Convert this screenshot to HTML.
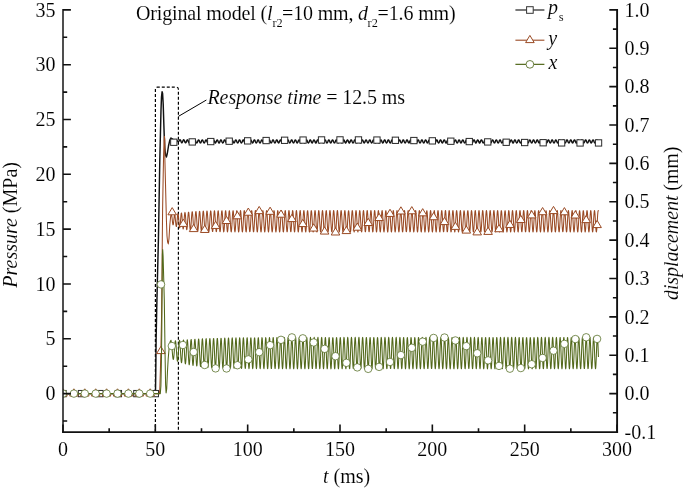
<!DOCTYPE html>
<html><head><meta charset="utf-8"><style>
html,body{margin:0;padding:0;background:#fff;}
svg{display:block;will-change:transform;}
text{font-family:"Liberation Serif",serif;stroke:#fff;stroke-width:0.1px;}
</style></head><body>
<svg width="685" height="490" viewBox="0 0 685 490" font-family="Liberation Serif" font-size="20" fill="#000">
<rect width="685" height="490" fill="#fff"/>
<defs><clipPath id="pc"><rect x="63" y="0" width="554" height="432"/></clipPath></defs>
<!-- dashed response-time box -->
<path d="M155.4 432V89.2Q155.4 87.2 157.4 87.2H176.4Q178.4 87.2 178.4 89.2V432" fill="none" stroke="#000" stroke-width="1.2" stroke-dasharray="3 2"/>
<path d="M178.4 116.4L206.4 100" fill="none" stroke="#000" stroke-width="1"/>
<g clip-path="url(#pc)">
<polyline points="63.00,393.60 155.30,393.60 155.50,392.00 155.80,370.00 156.10,340.00 156.70,310.00 157.30,284.00 157.90,260.00 158.40,240.00 159.10,200.00 159.80,160.00 160.40,135.00 161.00,110.00 161.50,97.00 162.10,91.70 162.60,93.50 163.20,104.00 163.70,120.00 164.20,135.00 164.80,148.00 165.50,155.00 166.40,157.00 167.30,153.50 168.50,146.00 169.80,140.20 171.00,137.90 171.20,138.10 171.45,138.30 171.70,138.49 171.95,138.67 172.20,138.84 172.45,138.99 172.70,139.14 172.95,139.28 173.20,139.41 173.45,139.53 173.70,139.65 173.95,139.76 174.20,139.86 174.45,139.95 174.70,140.04 174.95,140.13 175.20,140.22 175.45,140.26 175.70,140.25 175.95,140.21 176.20,140.17 176.45,140.19 176.70,140.27 176.95,140.44 177.20,140.70 177.45,141.00 177.70,141.29 177.95,141.53 178.20,141.65 178.45,141.63 178.70,141.44 178.95,141.12 179.20,140.72 179.45,140.30 179.70,139.97 179.95,139.80 180.20,139.85 180.45,140.13 180.70,140.61 180.95,141.24 181.20,141.87 181.45,142.37 181.70,142.67 181.95,142.70 182.20,142.47 182.45,142.02 182.70,141.43 182.95,140.81 183.20,140.26 183.45,139.89 183.70,139.76 183.95,139.90 184.20,140.28 184.45,140.85 184.70,141.49 184.95,142.10 185.20,142.57 185.45,142.83 185.70,142.82 185.95,142.56 186.20,142.08 186.45,141.47 186.70,140.84 186.95,140.31 187.20,139.96 187.45,139.85 187.70,140.02 187.95,140.42 188.20,140.99 188.45,141.63 188.70,142.22 188.95,142.67 189.20,142.90 189.45,142.86 189.70,142.56 189.95,142.06 190.20,141.44 190.45,140.82 190.70,140.30 190.95,139.97 191.20,139.89 191.45,140.08 191.70,140.51 191.95,141.09 192.20,141.73 192.45,142.31 192.70,142.73 192.95,142.93 193.20,142.86 193.45,142.53 193.70,142.01 193.95,141.39 194.20,140.77 194.45,140.26 194.70,139.96 194.95,139.92 195.20,140.13 195.45,140.58 195.70,141.17 195.95,141.81 196.20,142.38 196.45,142.78 196.70,142.94 196.95,142.84 197.20,142.49 197.45,141.95 197.70,141.32 197.95,140.71 198.20,140.22 198.45,139.95 198.70,139.93 198.95,140.18 199.20,140.65 199.45,141.25 199.70,141.88 199.95,142.44 200.20,142.81 200.45,142.95 200.70,142.81 200.95,142.44 201.20,141.88 201.45,141.25 201.70,140.65 201.95,140.18 202.20,139.94 202.45,139.95 202.70,140.23 202.95,140.71 203.20,141.32 203.45,141.95 203.70,142.49 203.95,142.84 204.20,142.95 204.45,142.78 204.70,142.38 204.95,141.81 205.20,141.18 205.45,140.59 205.70,140.14 205.95,139.92 206.20,139.97 206.45,140.27 206.70,140.78 206.95,141.40 207.20,142.02 207.45,142.54 207.70,142.87 207.95,142.94 208.20,142.75 208.45,142.33 208.70,141.74 208.95,141.11 209.20,140.53 209.45,140.11 209.70,139.92 209.95,139.99 210.20,140.32 210.45,140.84 210.70,141.47 210.95,142.09 211.20,142.59 211.45,142.89 211.70,142.93 211.95,142.71 212.20,142.27 212.45,141.67 212.70,141.04 212.95,140.47 213.20,140.07 213.45,139.91 213.70,140.02 213.95,140.37 214.20,140.91 214.45,141.54 214.70,142.15 214.95,142.64 215.20,142.91 215.45,142.92 215.70,142.67 215.95,142.20 216.20,141.60 216.45,140.97 216.70,140.41 216.95,140.04 217.20,139.91 217.45,140.05 217.70,140.43 217.95,140.98 218.20,141.62 218.45,142.22 218.70,142.68 218.95,142.93 219.20,142.91 219.45,142.63 219.70,142.14 219.95,141.53 220.20,140.90 220.45,140.36 220.70,140.01 220.95,139.91 221.20,140.08 221.45,140.48 221.70,141.05 221.95,141.69 222.20,142.28 222.45,142.72 222.70,142.94 222.95,142.89 223.20,142.58 223.45,142.07 223.70,141.45 223.95,140.83 224.20,140.31 224.45,139.99 224.70,139.92 224.95,140.11 225.20,140.54 225.45,141.12 225.70,141.76 225.95,142.34 226.20,142.76 226.45,142.94 226.70,142.86 226.95,142.53 227.20,142.01 227.45,141.38 227.70,140.76 227.95,140.26 228.20,139.97 228.45,139.93 228.70,140.15 228.95,140.60 229.20,141.20 229.45,141.83 229.70,142.40 229.95,142.79 230.20,142.95 230.45,142.84 230.70,142.48 230.95,141.94 231.20,141.31 231.45,140.70 231.70,140.22 231.95,139.95 232.20,139.94 232.45,140.19 232.70,140.66 232.95,141.27 233.20,141.90 233.45,142.45 233.70,142.82 233.95,142.95 234.20,142.81 234.45,142.43 234.70,141.87 234.95,141.24 235.20,140.63 235.45,140.17 235.70,139.93 235.95,139.96 236.20,140.24 236.45,140.73 236.70,141.34 236.95,141.97 237.20,142.51 237.45,142.85 237.70,142.95 237.95,142.78 238.20,142.37 238.45,141.80 238.70,141.16 238.95,140.57 239.20,140.13 239.45,139.92 239.70,139.98 239.95,140.28 240.20,140.79 240.45,141.41 240.70,142.04 240.95,142.56 241.20,142.88 241.45,142.94 241.70,142.74 241.95,142.31 242.20,141.73 242.45,141.09 242.70,140.51 242.95,140.10 243.20,139.91 243.45,140.00 243.70,140.33 243.95,140.86 244.20,141.49 244.45,142.10 244.70,142.60 244.95,142.90 245.20,142.93 245.45,142.70 245.70,142.25 245.95,141.66 246.20,141.02 246.45,140.46 246.70,140.06 246.95,139.91 247.20,140.02 247.45,140.38 247.70,140.93 247.95,141.56 248.20,142.17 248.45,142.65 248.70,142.91 248.95,142.92 249.20,142.66 249.45,142.19 249.70,141.58 249.95,140.95 250.20,140.40 250.45,140.03 250.70,139.91 250.95,140.05 251.20,140.44 251.45,141.00 251.70,141.63 251.95,142.23 252.20,142.69 252.45,142.93 252.70,142.90 252.95,142.62 253.20,142.13 253.45,141.51 253.70,140.88 253.95,140.35 254.20,140.01 254.45,139.91 254.70,140.09 254.95,140.50 255.20,141.07 255.45,141.71 255.70,142.29 255.95,142.73 256.20,142.94 256.45,142.88 256.70,142.57 256.95,142.06 257.20,141.44 257.45,140.81 257.70,140.30 257.95,139.98 258.20,139.92 258.45,140.12 258.70,140.55 258.95,141.14 259.20,141.78 259.45,142.35 259.70,142.77 259.95,142.95 260.20,142.86 260.45,142.52 260.70,141.99 260.95,141.36 261.20,140.75 261.45,140.25 261.70,139.96 261.95,139.93 262.20,140.16 262.45,140.62 262.70,141.21 262.95,141.85 263.20,142.41 263.45,142.80 263.70,142.95 263.95,142.83 264.20,142.47 264.45,141.92 264.70,141.29 264.95,140.68 265.20,140.21 265.45,139.94 265.70,139.94 265.95,140.20 266.20,140.68 266.45,141.28 266.70,141.92 266.95,142.46 267.20,142.83 267.45,142.95 267.70,142.80 267.95,142.41 268.20,141.85 268.45,141.22 268.70,140.62 268.95,140.16 269.20,139.93 269.45,139.96 269.70,140.25 269.95,140.74 270.20,141.36 270.45,141.99 270.70,142.52 270.95,142.86 271.20,142.95 271.45,142.77 271.70,142.36 271.95,141.78 272.20,141.15 272.45,140.56 272.70,140.13 272.95,139.92 273.20,139.98 273.45,140.29 273.70,140.81 273.95,141.43 274.20,142.05 274.45,142.57 274.70,142.88 274.95,142.94 275.20,142.73 275.45,142.30 275.70,141.71 275.95,141.07 276.20,140.50 276.45,140.09 276.70,139.91 276.95,140.00 277.20,140.34 277.45,140.88 277.70,141.50 277.95,142.12 278.20,142.61 278.45,142.90 278.70,142.93 278.95,142.69 279.20,142.24 279.45,141.64 279.70,141.00 279.95,140.44 280.20,140.06 280.45,139.91 280.70,140.03 280.95,140.40 281.20,140.94 281.45,141.58 281.70,142.18 281.95,142.66 282.20,142.92 282.45,142.92 282.70,142.65 282.95,142.17 283.20,141.57 283.45,140.93 283.70,140.39 283.95,140.03 284.20,139.91 284.45,140.06 284.70,140.45 284.95,141.01 285.20,141.65 285.45,142.25 285.70,142.70 285.95,142.93 286.20,142.90 286.45,142.61 286.70,142.11 286.95,141.49 287.20,140.87 287.45,140.34 287.70,140.00 287.95,139.91 288.20,140.09 288.45,140.51 288.70,141.09 288.95,141.72 289.20,142.31 289.45,142.74 289.70,142.94 289.95,142.88 290.20,142.56 290.45,142.04 290.70,141.42 290.95,140.80 291.20,140.29 291.45,139.98 291.70,139.92 291.95,140.13 292.20,140.57 292.45,141.16 292.70,141.79 292.95,142.37 293.20,142.77 293.45,142.95 293.70,142.85 293.95,142.51 294.20,141.98 294.45,141.35 294.70,140.73 294.95,140.24 295.20,139.96 295.45,139.93 295.70,140.17 295.95,140.63 296.20,141.23 296.45,141.86 296.70,142.42 296.95,142.81 297.20,142.95 297.45,142.83 297.70,142.46 297.95,141.91 298.20,141.27 298.45,140.67 298.70,140.20 298.95,139.94 299.20,139.95 299.45,140.21 299.70,140.69 299.95,141.30 300.20,141.93 300.45,142.48 300.70,142.84 300.95,142.95 301.20,142.80 301.45,142.40 301.70,141.84 301.95,141.20 302.20,140.61 302.45,140.16 302.70,139.93 302.95,139.96 303.20,140.26 303.45,140.76 303.70,141.37 303.95,142.00 304.20,142.53 304.45,142.86 304.70,142.95 304.95,142.76 305.20,142.34 305.45,141.77 305.70,141.13 305.95,140.55 306.20,140.12 306.45,139.92 306.70,139.99 306.95,140.31 307.20,140.82 307.45,141.45 307.70,142.07 307.95,142.58 308.20,142.89 308.45,142.94 308.70,142.72 308.95,142.28 309.20,141.70 309.45,141.06 309.70,140.49 309.95,140.08 310.20,139.91 310.45,140.01 310.70,140.36 310.95,140.89 311.20,141.52 311.45,142.13 311.70,142.62 311.95,142.90 312.20,142.93 312.45,142.69 312.70,142.22 312.95,141.62 313.20,140.99 313.45,140.43 313.70,140.05 313.95,139.91 314.20,140.04 314.45,140.41 314.70,140.96 314.95,141.59 315.20,142.20 315.45,142.67 315.70,142.92 315.95,142.91 316.20,142.64 316.45,142.16 316.70,141.55 316.95,140.92 317.20,140.38 317.45,140.02 317.70,139.91 317.95,140.07 318.20,140.46 318.45,141.03 318.70,141.67 318.95,142.26 319.20,142.71 319.45,142.93 319.70,142.89 319.95,142.60 320.20,142.10 320.45,141.48 320.70,140.85 320.95,140.33 321.20,139.99 321.45,139.92 321.70,140.10 321.95,140.52 322.20,141.10 322.45,141.74 322.70,142.32 322.95,142.75 323.20,142.94 323.45,142.87 323.70,142.55 323.95,142.03 324.20,141.40 324.45,140.78 324.70,140.28 324.95,139.97 325.20,139.92 325.45,140.14 325.70,140.58 325.95,141.17 326.20,141.81 326.45,142.38 326.70,142.78 326.95,142.95 327.20,142.85 327.45,142.50 327.70,141.96 327.95,141.33 328.20,140.72 328.45,140.23 328.70,139.95 328.95,139.94 329.20,140.18 329.45,140.64 329.70,141.25 329.95,141.88 330.20,142.44 330.45,142.81 330.70,142.95 330.95,142.82 331.20,142.44 331.45,141.89 331.70,141.26 331.95,140.65 332.20,140.19 332.45,139.94 332.70,139.95 332.95,140.22 333.20,140.71 333.45,141.32 333.70,141.95 333.95,142.49 334.20,142.84 334.45,142.95 334.70,142.79 334.95,142.39 335.20,141.82 335.45,141.19 335.70,140.59 335.95,140.15 336.20,139.93 336.45,139.97 336.70,140.27 336.95,140.77 337.20,141.39 337.45,142.02 337.70,142.54 337.95,142.87 338.20,142.94 338.45,142.75 338.70,142.33 338.95,141.75 339.20,141.11 339.45,140.53 339.70,140.11 339.95,139.92 340.20,139.99 340.45,140.32 340.70,140.84 340.95,141.46 341.20,142.08 341.45,142.59 341.70,142.89 341.95,142.94 342.20,142.72 342.45,142.27 342.70,141.68 342.95,141.04 343.20,140.47 343.45,140.07 343.70,139.91 343.95,140.02 344.20,140.37 344.45,140.91 344.70,141.54 344.95,142.15 345.20,142.63 345.45,142.91 345.70,142.92 345.95,142.68 346.20,142.21 346.45,141.61 346.70,140.97 346.95,140.42 347.20,140.04 347.45,139.91 347.70,140.04 347.95,140.42 348.20,140.98 348.45,141.61 348.70,142.21 348.95,142.68 349.20,142.92 349.45,142.91 349.70,142.63 349.95,142.15 350.20,141.53 350.45,140.90 350.70,140.37 350.95,140.01 351.20,139.91 351.45,140.08 351.70,140.48 351.95,141.05 352.20,141.68 352.45,142.27 352.70,142.72 352.95,142.94 353.20,142.89 353.45,142.59 353.70,142.08 353.95,141.46 354.20,140.84 354.45,140.31 354.70,139.99 354.95,139.92 355.20,140.11 355.45,140.54 355.70,141.12 355.95,141.75 356.20,142.33 356.45,142.76 356.70,142.94 356.95,142.87 357.20,142.54 357.45,142.01 357.70,141.39 357.95,140.77 358.20,140.27 358.45,139.97 358.70,139.93 358.95,140.15 359.20,140.60 359.45,141.19 359.70,141.83 359.95,142.39 360.20,142.79 360.45,142.95 360.70,142.84 360.95,142.49 361.20,141.95 361.45,141.31 361.70,140.70 361.95,140.22 362.20,139.95 362.45,139.94 362.70,140.19 362.95,140.66 363.20,141.26 363.45,141.90 363.70,142.45 363.95,142.82 364.20,142.95 364.45,142.81 364.70,142.43 364.95,141.88 365.20,141.24 365.45,140.64 365.70,140.18 365.95,139.93 366.20,139.95 366.45,140.23 366.70,140.72 366.95,141.33 367.20,141.96 367.45,142.50 367.70,142.85 367.95,142.95 368.20,142.78 368.45,142.38 368.70,141.81 368.95,141.17 369.20,140.58 369.45,140.14 369.70,139.92 369.95,139.97 370.20,140.28 370.45,140.79 370.70,141.41 370.95,142.03 371.20,142.55 371.45,142.87 371.70,142.94 371.95,142.75 372.20,142.32 372.45,141.73 372.70,141.10 372.95,140.52 373.20,140.10 373.45,139.92 373.70,140.00 373.95,140.33 374.20,140.85 374.45,141.48 374.70,142.10 374.95,142.60 375.20,142.89 375.45,142.93 375.70,142.71 375.95,142.26 376.20,141.66 376.45,141.03 376.70,140.46 376.95,140.07 377.20,139.91 377.45,140.02 377.70,140.38 377.95,140.92 378.20,141.55 378.45,142.16 378.70,142.64 378.95,142.91 379.20,142.92 379.45,142.67 379.70,142.19 379.95,141.59 380.20,140.96 380.45,140.41 380.70,140.04 380.95,139.91 381.20,140.05 381.45,140.43 381.70,140.99 381.95,141.63 382.20,142.23 382.45,142.69 382.70,142.93 382.95,142.90 383.20,142.62 383.45,142.13 383.70,141.52 383.95,140.89 384.20,140.35 384.45,140.01 384.70,139.91 384.95,140.08 385.20,140.49 385.45,141.06 385.70,141.70 385.95,142.29 386.20,142.73 386.45,142.94 386.70,142.88 386.95,142.58 387.20,142.07 387.45,141.44 387.70,140.82 387.95,140.30 388.20,139.98 388.45,139.92 388.70,140.12 388.95,140.55 389.20,141.13 389.45,141.77 389.70,142.35 389.95,142.76 390.20,142.95 390.45,142.86 390.70,142.53 390.95,142.00 391.20,141.37 391.45,140.75 391.70,140.26 391.95,139.96 392.20,139.93 392.45,140.16 392.70,140.61 392.95,141.21 393.20,141.84 393.45,142.40 393.70,142.80 393.95,142.95 394.20,142.83 394.45,142.47 394.70,141.93 394.95,141.30 395.20,140.69 395.45,140.21 395.70,139.95 395.95,139.94 396.20,140.20 396.45,140.67 396.70,141.28 396.95,141.91 397.20,142.46 397.45,142.83 397.70,142.95 397.95,142.81 398.20,142.42 398.45,141.86 398.70,141.22 398.95,140.63 399.20,140.17 399.45,139.93 399.70,139.96 399.95,140.24 400.20,140.74 400.45,141.35 400.70,141.98 400.95,142.51 401.20,142.85 401.45,142.95 401.70,142.77 401.95,142.36 402.20,141.79 402.45,141.15 402.70,140.56 402.95,140.13 403.20,139.92 403.45,139.98 403.70,140.29 403.95,140.80 404.20,141.42 404.45,142.05 404.70,142.56 404.95,142.88 405.20,142.94 405.45,142.74 405.70,142.30 405.95,141.72 406.20,141.08 406.45,140.51 406.70,140.09 406.95,139.91 407.20,140.00 407.45,140.34 407.70,140.87 407.95,141.50 408.20,142.11 408.45,142.61 408.70,142.90 408.95,142.93 409.20,142.70 409.45,142.24 409.70,141.65 409.95,141.01 410.20,140.45 410.45,140.06 410.70,139.91 410.95,140.03 411.20,140.39 411.45,140.94 411.70,141.57 411.95,142.18 412.20,142.65 412.45,142.92 412.70,142.92 412.95,142.66 413.20,142.18 413.45,141.57 413.70,140.94 413.95,140.39 414.20,140.03 414.45,139.91 414.70,140.06 414.95,140.45 415.20,141.01 415.45,141.64 415.70,142.24 415.95,142.70 416.20,142.93 416.45,142.90 416.70,142.61 416.95,142.12 417.20,141.50 417.45,140.87 417.70,140.34 417.95,140.00 418.20,139.91 418.45,140.09 418.70,140.50 418.95,141.08 419.20,141.72 419.45,142.30 419.70,142.74 419.95,142.94 420.20,142.88 420.45,142.56 420.70,142.05 420.95,141.43 421.20,140.80 421.45,140.29 421.70,139.98 421.95,139.92 422.20,140.13 422.45,140.56 422.70,141.15 422.95,141.79 423.20,142.36 423.45,142.77 423.70,142.95 423.95,142.86 424.20,142.51 424.45,141.98 424.70,141.35 424.95,140.74 425.20,140.24 425.45,139.96 425.70,139.93 425.95,140.17 426.20,140.62 426.45,141.22 426.70,141.86 426.95,142.42 427.20,142.80 427.45,142.95 427.70,142.83 427.95,142.46 428.20,141.91 428.45,141.28 428.70,140.67 428.95,140.20 429.20,139.94 429.45,139.95 429.70,140.21 429.95,140.69 430.20,141.30 430.45,141.93 430.70,142.47 430.95,142.83 431.20,142.95 431.45,142.80 431.70,142.41 431.95,141.84 432.20,141.21 432.45,140.61 432.70,140.16 432.95,139.93 433.20,139.96 433.45,140.25 433.70,140.75 433.95,141.37 434.20,142.00 434.45,142.52 434.70,142.86 434.95,142.95 435.20,142.76 435.45,142.35 435.70,141.77 435.95,141.14 436.20,140.55 436.45,140.12 436.70,139.92 436.95,139.98 437.20,140.30 437.45,140.82 437.70,141.44 437.95,142.06 438.20,142.57 438.45,142.88 438.70,142.94 438.95,142.73 439.20,142.29 439.45,141.70 439.70,141.06 439.95,140.49 440.20,140.08 440.45,139.91 440.70,140.01 440.95,140.35 441.20,140.89 441.45,141.51 441.70,142.13 441.95,142.62 442.20,142.90 442.45,142.93 442.70,142.69 442.95,142.23 443.20,141.63 443.45,140.99 443.70,140.44 443.95,140.05 444.20,139.91 444.45,140.03 444.70,140.40 444.95,140.95 445.20,141.59 445.45,142.19 445.70,142.66 445.95,142.92 446.20,142.91 446.45,142.65 446.70,142.17 446.95,141.56 447.20,140.92 447.45,140.38 447.70,140.02 447.95,139.91 448.20,140.07 448.45,140.46 448.70,141.02 448.95,141.66 449.20,142.26 449.45,142.71 449.70,142.93 449.95,142.90 450.20,142.60 450.45,142.10 450.70,141.48 450.95,140.86 451.20,140.33 451.45,140.00 451.70,139.92 451.95,140.10 452.20,140.52 452.45,141.10 452.70,141.73 452.95,142.32 453.20,142.74 453.45,142.94 453.70,142.87 453.95,142.55 454.20,142.03 454.45,141.41 454.70,140.79 454.95,140.28 455.20,139.97 455.45,139.92 455.70,140.14 455.95,140.58 456.20,141.17 456.45,141.80 456.70,142.37 456.95,142.78 457.20,142.95 457.45,142.85 457.70,142.50 457.95,141.97 458.20,141.34 458.45,140.72 458.70,140.23 458.95,139.95 459.20,139.93 459.45,140.18 459.70,140.64 459.95,141.24 460.20,141.87 460.45,142.43 460.70,142.81 460.95,142.95 461.20,142.82 461.45,142.45 461.70,141.90 461.95,141.26 462.20,140.66 462.45,140.19 462.70,139.94 462.95,139.95 463.20,140.22 463.45,140.70 463.70,141.31 463.95,141.94 464.20,142.48 464.45,142.84 464.70,142.95 464.95,142.79 465.20,142.39 465.45,141.83 465.70,141.19 465.95,140.60 466.20,140.15 466.45,139.93 466.70,139.97 466.95,140.26 467.20,140.77 467.45,141.38 467.70,142.01 467.95,142.54 468.20,142.87 468.45,142.94 468.70,142.76 468.95,142.34 469.20,141.76 469.45,141.12 469.70,140.54 469.95,140.11 470.20,139.92 470.45,139.99 470.70,140.31 470.95,140.83 471.20,141.46 471.45,142.08 471.70,142.58 471.95,142.89 472.20,142.94 472.45,142.72 472.70,142.28 472.95,141.69 473.20,141.05 473.45,140.48 473.70,140.08 473.95,139.91 474.20,140.01 474.45,140.36 474.70,140.90 474.95,141.53 475.20,142.14 475.45,142.63 475.70,142.91 475.95,142.92 476.20,142.68 476.45,142.21 476.70,141.61 476.95,140.98 477.20,140.42 477.45,140.05 477.70,139.91 477.95,140.04 478.20,140.42 478.45,140.97 478.70,141.60 478.95,142.21 479.20,142.67 479.45,142.92 479.70,142.91 479.95,142.64 480.20,142.15 480.45,141.54 480.70,140.91 480.95,140.37 481.20,140.02 481.45,139.91 481.70,140.07 481.95,140.47 482.20,141.04 482.45,141.68 482.70,142.27 482.95,142.71 483.20,142.93 483.45,142.89 483.70,142.59 483.95,142.09 484.20,141.47 484.45,140.84 484.70,140.32 484.95,139.99 485.20,139.92 485.45,140.11 485.70,140.53 485.95,141.11 486.20,141.75 486.45,142.33 486.70,142.75 486.95,142.94 487.20,142.87 487.45,142.54 487.70,142.02 487.95,141.39 488.20,140.77 488.45,140.27 488.70,139.97 488.95,139.93 489.20,140.15 489.45,140.59 489.70,141.18 489.95,141.82 490.20,142.39 490.45,142.79 490.70,142.95 490.95,142.84 491.20,142.49 491.45,141.95 491.70,141.32 491.95,140.71 492.20,140.22 492.45,139.95 492.70,139.94 492.95,140.19 493.20,140.65 493.45,141.26 493.70,141.89 493.95,142.44 494.20,142.82 494.45,142.95 494.70,142.81 494.95,142.44 495.20,141.88 495.45,141.25 495.70,140.65 495.95,140.18 496.20,139.94 496.45,139.95 496.70,140.23 496.95,140.72 497.20,141.33 497.45,141.96 497.70,142.50 497.95,142.85 498.20,142.95 498.45,142.78 498.70,142.38 498.95,141.81 499.20,141.18 499.45,140.58 499.70,140.14 499.95,139.92 500.20,139.97 500.45,140.28 500.70,140.78 500.95,141.40 501.20,142.03 501.45,142.55 501.70,142.87 501.95,142.94 502.20,142.75 502.45,142.32 502.70,141.74 502.95,141.10 503.20,140.52 503.45,140.10 503.70,139.92 503.95,139.99 504.20,140.32 504.45,140.85 504.70,141.47 504.95,142.09 505.20,142.60 505.45,142.89 505.70,142.93 505.95,142.71 506.20,142.26 506.45,141.67 506.70,141.03 506.95,140.47 507.20,140.07 507.45,139.91 507.70,140.02 507.95,140.38 508.20,140.92 508.45,141.55 508.70,142.16 508.95,142.64 509.20,142.91 509.45,142.92 509.70,142.67 509.95,142.20 510.20,141.60 510.45,140.96 510.70,140.41 510.95,140.04 511.20,139.91 511.45,140.05 511.70,140.43 511.95,140.99 512.20,141.62 512.45,142.22 512.70,142.68 512.95,142.93 513.20,142.91 513.45,142.63 513.70,142.14 513.95,141.52 514.20,140.89 514.45,140.36 514.70,140.01 514.95,139.91 515.20,140.08 515.45,140.49 515.70,141.06 515.95,141.69 516.20,142.28 516.45,142.72 516.70,142.94 516.95,142.89 517.20,142.58 517.45,142.07 517.70,141.45 517.95,140.83 518.20,140.31 518.45,139.99 518.70,139.92 518.95,140.12 519.20,140.54 519.45,141.13 519.70,141.76 519.95,142.34 520.20,142.76 520.45,142.94 520.70,142.86 520.95,142.53 521.20,142.00 521.45,141.38 521.70,140.76 521.95,140.26 522.20,139.96 522.45,139.93 522.70,140.15 522.95,140.60 523.20,141.20 523.45,141.84 523.70,142.40 523.95,142.79 524.20,142.95 524.45,142.84 524.70,142.48 524.95,141.94 525.20,141.30 525.45,140.69 525.70,140.21 525.95,139.95 526.20,139.94 526.45,140.20 526.70,140.67 526.95,141.27 527.20,141.91 527.45,142.46 527.70,142.82 527.95,142.95 528.20,142.81 528.45,142.42 528.70,141.87 528.95,141.23 529.20,140.63 529.45,140.17 529.70,139.93 529.95,139.96 530.20,140.24 530.45,140.73 530.70,141.35 530.95,141.97 531.20,142.51 531.45,142.85 531.70,142.95 531.95,142.78 532.20,142.37 532.45,141.80 532.70,141.16 532.95,140.57 533.20,140.13 533.45,139.92 533.70,139.98 533.95,140.29 534.20,140.80 534.45,141.42 534.70,142.04 534.95,142.56 535.20,142.88 535.45,142.94 535.70,142.74 535.95,142.31 536.20,141.72 536.45,141.09 536.70,140.51 536.95,140.10 537.20,139.91 537.45,140.00 537.70,140.34 537.95,140.86 538.20,141.49 538.45,142.11 538.70,142.61 538.95,142.90 539.20,142.93 539.45,142.70 539.70,142.25 539.95,141.65 540.20,141.02 540.45,140.45 540.70,140.06 540.95,139.91 541.20,140.03 541.45,140.39 541.70,140.93 541.95,141.56 542.20,142.17 542.45,142.65 542.70,142.91 542.95,142.92 543.20,142.66 543.45,142.19 543.70,141.58 543.95,140.95 544.20,140.40 544.45,140.03 544.70,139.91 544.95,140.06 545.20,140.44 545.45,141.00 545.70,141.64 545.95,142.24 546.20,142.69 546.45,142.93 546.70,142.90 546.95,142.62 547.20,142.12 547.45,141.51 547.70,140.88 547.95,140.35 548.20,140.00 548.45,139.91 548.70,140.09 548.95,140.50 549.20,141.07 549.45,141.71 549.70,142.30 549.95,142.73 550.20,142.94 550.45,142.88 550.70,142.57 550.95,142.06 551.20,141.43 551.45,140.81 551.70,140.30 551.95,139.98 552.20,139.92 552.45,140.12 552.70,140.56 552.95,141.14 553.20,141.78 553.45,142.36 553.70,142.77 553.95,142.95 554.20,142.86 554.45,142.52 554.70,141.99 554.95,141.36 555.20,140.74 555.45,140.25 555.70,139.96 555.95,139.93 556.20,140.16 556.45,140.62 556.70,141.22 556.95,141.85 557.20,142.41 557.45,142.80 557.70,142.95 557.95,142.83 558.20,142.47 558.45,141.92 558.70,141.29 558.95,140.68 559.20,140.20 559.45,139.94 559.70,139.94 559.95,140.21 560.20,140.68 560.45,141.29 560.70,141.92 560.95,142.47 561.20,142.83 561.45,142.95 561.70,142.80 561.95,142.41 562.20,141.85 562.45,141.21 562.70,140.62 562.95,140.16 563.20,139.93 563.45,139.96 563.70,140.25 563.95,140.75 564.20,141.36 564.45,141.99 564.70,142.52 564.95,142.86 565.20,142.95 565.45,142.77 565.70,142.35 565.95,141.78 566.20,141.14 566.45,140.56 566.70,140.12 566.95,139.92 567.20,139.98 567.45,140.30 567.70,140.81 567.95,141.43 568.20,142.06 568.45,142.57 568.70,142.88 568.95,142.94 569.20,142.73 569.45,142.30 569.70,141.71 569.95,141.07 570.20,140.50 570.45,140.09 570.70,139.91 570.95,140.01 571.20,140.35 571.45,140.88 571.70,141.51 571.95,142.12 572.20,142.62 572.45,142.90 572.70,142.93 572.95,142.69 573.20,142.23 573.45,141.64 573.70,141.00 573.95,140.44 574.20,140.05 574.45,139.91 574.70,140.03 574.95,140.40 575.20,140.95 575.45,141.58 575.70,142.19 575.95,142.66 576.20,142.92 576.45,142.91 576.70,142.65 576.95,142.17 577.20,141.56 577.45,140.93 577.70,140.39 577.95,140.03 578.20,139.91 578.45,140.06 578.70,140.45 578.95,141.02 579.20,141.65 579.45,142.25 579.70,142.70 579.95,142.93 580.20,142.90 580.45,142.60 580.70,142.11 580.95,141.49 581.20,140.86 581.45,140.33 581.70,140.00 581.95,139.91 582.20,140.10 582.45,140.51 582.70,141.09 582.95,141.73 583.20,142.31 583.45,142.74 583.70,142.94 583.95,142.88 584.20,142.56 584.45,142.04 584.70,141.42 584.95,140.80 585.20,140.29 585.45,139.98 585.70,139.92 585.95,140.13 586.20,140.57 586.45,141.16 586.70,141.80 586.95,142.37 587.20,142.78 587.45,142.95 587.70,142.85 587.95,142.51 588.20,141.97 588.45,141.34 588.70,140.73 588.95,140.24 589.20,139.96 589.45,139.93 589.70,140.17 589.95,140.63 590.20,141.23 590.45,141.87 590.70,142.43 590.95,142.81 591.20,142.95 591.45,142.82 591.70,142.45 591.95,141.90 592.20,141.27 592.45,140.67 592.70,140.19 592.95,139.94 593.20,139.95 593.45,140.21 593.70,140.70 593.95,141.31 594.20,141.94 594.45,142.48 594.70,142.84 594.95,142.95 595.20,142.79 595.45,142.40 595.70,141.83 595.95,141.20 596.20,140.60 596.45,140.15 596.70,139.93 596.95,139.97 597.20,140.26 597.45,140.76 597.70,141.38 597.95,142.01 598.20,142.53 598.45,142.86" fill="none" stroke="#111" stroke-width="1.45" stroke-linejoin="round"/>
<g fill="#fff" stroke="#2a2a2a" stroke-width="1"><rect x="59.85" y="390.45" width="6.30" height="6.30"/><rect x="78.32" y="390.45" width="6.30" height="6.30"/><rect x="96.78" y="390.45" width="6.30" height="6.30"/><rect x="115.25" y="390.45" width="6.30" height="6.30"/><rect x="133.72" y="390.45" width="6.30" height="6.30"/><rect x="152.18" y="390.45" width="6.30" height="6.30"/><rect x="170.65" y="139.09" width="6.30" height="6.30"/><rect x="189.12" y="138.77" width="6.30" height="6.30"/><rect x="207.59" y="138.41" width="6.30" height="6.30"/><rect x="226.05" y="138.05" width="6.30" height="6.30"/><rect x="244.52" y="137.71" width="6.30" height="6.30"/><rect x="262.99" y="137.39" width="6.30" height="6.30"/><rect x="281.45" y="137.13" width="6.30" height="6.30"/><rect x="299.92" y="136.93" width="6.30" height="6.30"/><rect x="318.39" y="136.80" width="6.30" height="6.30"/><rect x="336.86" y="136.76" width="6.30" height="6.30"/><rect x="355.32" y="136.80" width="6.30" height="6.30"/><rect x="373.79" y="136.93" width="6.30" height="6.30"/><rect x="392.26" y="137.13" width="6.30" height="6.30"/><rect x="410.72" y="137.40" width="6.30" height="6.30"/><rect x="429.19" y="137.71" width="6.30" height="6.30"/><rect x="447.66" y="138.06" width="6.30" height="6.30"/><rect x="466.12" y="138.42" width="6.30" height="6.30"/><rect x="484.59" y="138.77" width="6.30" height="6.30"/><rect x="503.06" y="139.10" width="6.30" height="6.30"/><rect x="521.52" y="139.37" width="6.30" height="6.30"/><rect x="539.99" y="139.59" width="6.30" height="6.30"/><rect x="558.46" y="139.74" width="6.30" height="6.30"/><rect x="576.93" y="139.80" width="6.30" height="6.30"/><rect x="595.39" y="139.78" width="6.30" height="6.30"/></g>
<polyline points="63.00,393.60 159.30,393.60 159.80,390.00 160.40,370.00 160.90,350.00 161.50,320.00 162.00,280.00 162.30,240.00 162.60,210.00 163.20,175.00 163.60,155.00 164.10,140.00 164.50,136.20 164.80,140.00 164.90,160.00 165.40,180.00 165.90,200.00 166.40,220.00 167.00,236.00 167.60,242.00 168.30,243.90 169.00,238.50 169.80,225.00 170.70,216.00 171.50,214.00 171.70,215.79 171.95,217.12 172.20,219.22 172.45,221.58 172.70,223.62 172.95,224.81 173.20,224.83 173.45,223.65 173.70,221.52 173.95,218.96 174.20,216.58 174.45,214.96 174.70,214.51 174.95,215.38 175.20,217.39 175.45,220.12 175.70,222.95 175.95,225.26 176.20,226.51 176.45,226.41 176.70,224.96 176.95,222.47 177.20,219.47 177.45,216.61 177.70,214.51 177.95,213.66 178.20,214.24 178.45,216.17 178.70,219.05 178.95,222.30 179.20,225.24 179.45,227.27 179.70,227.95 179.95,227.14 180.20,224.98 180.45,221.91 180.70,218.54 180.95,215.56 181.20,213.56 181.45,212.97 181.70,213.92 181.95,216.24 182.20,219.48 182.45,223.02 182.70,226.16 182.95,228.28 183.20,228.97 183.45,228.09 183.70,225.78 183.95,222.50 184.20,218.87 184.45,215.58 184.70,213.28 184.95,212.41 185.20,213.15 185.45,215.38 185.70,218.67 185.95,222.42 186.20,225.93 186.45,228.52 186.70,229.71 186.95,229.27 187.20,227.28 187.45,224.09 187.70,220.30 187.95,216.62 188.20,213.72 188.45,212.16 188.70,212.22 188.95,213.92 189.20,216.94 189.45,220.73 189.70,224.61 189.95,227.85 190.20,229.87 190.45,230.29 190.70,229.02 190.95,226.29 191.20,222.60 191.45,218.62 191.70,215.06 191.95,212.58 192.20,211.64 192.45,212.41 192.70,214.76 192.95,218.28 193.20,222.32 193.45,226.16 193.70,229.11 193.95,230.64 194.20,230.46 194.45,228.60 194.70,225.39 194.95,221.41 195.20,217.36 195.45,213.98 195.70,211.88 195.95,211.43 196.20,212.72 196.45,215.53 196.70,219.36 196.95,223.52 197.20,227.28 197.45,229.96 197.70,231.08 197.95,230.44 198.20,228.15 198.45,224.62 198.70,220.46 198.95,216.42 199.20,213.22 199.45,211.43 199.70,211.37 199.95,213.06 200.20,216.20 200.45,220.23 200.70,224.45 200.95,228.10 201.20,230.54 201.45,231.34 201.70,230.34 201.95,227.72 202.20,223.95 202.45,219.68 202.70,215.68 202.95,212.65 203.20,211.13 203.45,211.39 203.70,213.39 203.95,216.78 204.20,220.96 204.45,225.19 204.70,228.73 204.95,230.96 205.20,231.47 205.45,230.18 205.70,227.31 205.95,223.36 206.20,219.03 206.45,215.09 206.70,212.22 206.95,210.94 207.20,211.47 207.45,213.72 207.70,217.30 207.95,221.58 208.20,225.81 208.45,229.24 208.70,231.26 208.95,231.53 209.20,229.98 209.45,226.90 209.70,222.82 209.95,218.46 210.20,214.58 210.45,211.87 210.70,210.81 210.95,211.58 211.20,214.05 211.45,217.79 211.70,222.14 211.95,226.34 212.20,229.65 212.45,231.48 212.70,231.53 212.95,229.76 213.20,226.51 213.45,222.32 213.70,217.95 213.95,214.15 214.20,211.59 214.45,210.73 214.70,211.72 214.95,214.38 215.20,218.25 215.45,222.65 215.70,226.81 215.95,229.99 216.20,231.65 216.45,231.48 216.70,229.52 216.95,226.11 217.20,221.84 217.45,217.47 217.70,213.76 217.95,211.36 218.20,210.70 218.45,211.89 218.70,214.72 218.95,218.70 219.20,223.13 219.45,227.24 219.70,230.30 219.95,231.77 220.20,231.41 220.45,229.26 220.70,225.71 220.95,221.38 221.20,217.02 221.45,213.41 221.70,211.17 221.95,210.69 222.20,212.07 222.45,215.06 222.70,219.14 222.95,223.59 223.20,227.63 223.45,230.56 223.70,231.86 223.95,231.30 224.20,228.98 224.45,225.31 224.70,220.93 224.95,216.60 225.20,213.09 225.45,211.00 225.70,210.72 225.95,212.28 226.20,215.42 226.45,219.57 226.70,224.03 226.95,228.00 227.20,230.79 227.45,231.91 227.70,231.17 227.95,228.69 228.20,224.90 228.45,220.48 228.70,216.19 228.95,212.79 229.20,210.87 229.45,210.77 229.70,212.51 229.95,215.78 230.20,220.01 230.45,224.46 230.70,228.35 230.95,231.00 231.20,231.94 231.45,231.02 231.70,228.38 231.95,224.49 232.20,220.04 232.45,215.80 232.70,212.51 232.95,210.76 233.20,210.84 233.45,212.75 233.70,216.15 233.95,220.44 234.20,224.88 234.45,228.68 234.70,231.19 234.95,231.95 235.20,230.84 235.45,228.05 235.70,224.07 235.95,219.60 236.20,215.42 236.45,212.25 236.70,210.67 236.95,210.94 237.20,213.01 237.45,216.53 237.70,220.88 237.95,225.29 238.20,229.00 238.45,231.35 238.70,231.94 238.95,230.65 239.20,227.72 239.45,223.65 239.70,219.17 239.95,215.05 240.20,212.02 240.45,210.60 240.70,211.05 240.95,213.29 241.20,216.92 241.45,221.31 241.70,225.70 241.95,229.30 242.20,231.50 242.45,231.90 242.70,230.44 242.95,227.37 243.20,223.23 243.45,218.74 243.70,214.69 243.95,211.80 244.20,210.55 244.45,211.19 244.70,213.58 244.95,217.32 245.20,221.75 245.45,226.09 245.70,229.59 245.95,231.62 246.20,231.84 246.45,230.21 246.70,227.01 246.95,222.80 247.20,218.32 247.45,214.35 247.70,211.59 247.95,210.53 248.20,211.34 248.45,213.89 248.70,217.72 248.95,222.18 249.20,226.48 249.45,229.86 249.70,231.73 249.95,231.77 250.20,229.97 250.45,226.64 250.70,222.37 250.95,217.90 251.20,214.02 251.45,211.41 251.70,210.52 251.95,211.51 252.20,214.20 252.45,218.14 252.70,222.61 252.95,226.85 253.20,230.11 253.45,231.82 253.70,231.68 253.95,229.71 254.20,226.26 254.45,221.94 254.70,217.49 254.95,213.70 255.20,211.24 255.45,210.53 255.70,211.69 255.95,214.53 256.20,218.55 256.45,223.04 256.70,227.22 256.95,230.35 257.20,231.89 257.45,231.57 257.70,229.44 257.95,225.87 258.20,221.50 258.45,217.09 258.70,213.40 258.95,211.09 259.20,210.56 259.45,211.90 259.70,214.88 259.95,218.97 260.20,223.47 260.45,227.58 260.70,230.58 260.95,231.94 261.20,231.44 261.45,229.15 261.70,225.48 261.95,221.07 262.20,216.69 262.45,213.11 262.70,210.95 262.95,210.60 263.20,212.12 263.45,215.23 263.70,219.40 263.95,223.89 264.20,227.92 264.45,230.78 264.70,231.98 264.95,231.29 265.20,228.85 265.45,225.08 265.70,220.63 265.95,216.30 266.20,212.83 266.45,210.84 266.70,210.67 266.95,212.35 267.20,215.59 267.45,219.83 267.70,224.31 267.95,228.26 268.20,230.98 268.45,232.00 268.70,231.13 268.95,228.54 269.20,224.67 269.45,220.20 269.70,215.92 269.95,212.57 270.20,210.74 270.45,210.75 270.70,212.60 270.95,215.97 271.20,220.26 271.45,224.72 271.70,228.58 271.95,231.16 272.20,232.00 272.45,230.95 272.70,228.21 272.95,224.25 273.20,219.77 273.45,215.54 273.70,212.32 273.95,210.65 274.20,210.85 274.45,212.86 274.70,216.35 274.95,220.69 275.20,225.13 275.45,228.89 275.70,231.32 275.95,231.98 276.20,230.76 276.45,227.88 276.70,223.84 276.95,219.34 277.20,215.18 277.45,212.08 277.70,210.59 277.95,210.96 278.20,213.14 278.45,216.74 278.70,221.12 278.95,225.53 279.20,229.19 279.45,231.46 279.70,231.94 279.95,230.55 280.20,227.53 280.45,223.41 280.70,218.91 280.95,214.83 281.20,211.86 281.45,210.54 281.70,211.10 281.95,213.43 282.20,217.13 282.45,221.56 282.70,225.93 282.95,229.48 283.20,231.59 283.45,231.89 283.70,230.33 283.95,227.17 284.20,222.99 284.45,218.49 284.70,214.48 284.95,211.66 285.20,210.51 285.45,211.25 285.70,213.73 285.95,217.54 286.20,221.99 286.45,226.31 286.70,229.75 286.95,231.70 287.20,231.82 287.45,230.09 287.70,226.81 287.95,222.56 288.20,218.08 288.45,214.15 288.70,211.47 288.95,210.50 289.20,211.41 289.45,214.05 289.70,217.95 289.95,222.42 290.20,226.69 290.45,230.01 290.70,231.79 290.95,231.73 291.20,229.83 291.45,226.43 291.70,222.12 291.95,217.66 292.20,213.83 292.45,211.30 292.70,210.51 292.95,211.60 293.20,214.38 293.45,218.36 293.70,222.85 293.95,227.06 294.20,230.25 294.45,231.87 294.70,231.62 294.95,229.56 295.20,226.05 295.45,221.69 295.70,217.26 295.95,213.52 296.20,211.14 296.45,210.53 296.70,211.80 296.95,214.72 297.20,218.78 297.45,223.28 297.70,227.42 297.95,230.48 298.20,231.93 298.45,231.50 298.70,229.28 298.95,225.66 299.20,221.26 299.45,216.86 299.70,213.23 299.95,211.00 300.20,210.57 300.45,212.01 300.70,215.07 300.95,219.21 301.20,223.70 301.45,227.77 301.70,230.70 301.95,231.97 302.20,231.36 302.45,228.99 302.70,225.26 302.95,220.82 303.20,216.47 303.45,212.95 303.70,210.88 303.95,210.63 304.20,212.24 304.45,215.43 304.70,219.63 304.95,224.12 305.20,228.11 305.45,230.90 305.70,231.99 305.95,231.21 306.20,228.68 306.45,224.85 306.70,220.39 306.95,216.08 307.20,212.68 307.45,210.77 307.70,210.71 307.95,212.48 308.20,215.80 308.45,220.06 308.70,224.54 308.95,228.44 309.20,231.08 309.45,232.00 309.70,231.04 309.95,228.36 310.20,224.44 310.45,219.96 310.70,215.70 310.95,212.42 311.20,210.68 311.45,210.80 311.70,212.74 311.95,216.17 312.20,220.50 312.45,224.95 312.70,228.76 312.95,231.25 313.20,231.99 313.45,230.85 313.70,228.03 313.95,224.02 314.20,219.53 314.45,215.34 314.70,212.18 314.95,210.61 315.20,210.91 315.45,213.01 315.70,216.56 315.95,220.93 316.20,225.35 316.45,229.06 316.70,231.40 316.95,231.96 317.20,230.65 317.45,227.69 317.70,223.60 317.95,219.10 318.20,214.98 318.45,211.96 318.70,210.56 318.95,211.03 319.20,213.30 319.45,216.96 319.70,221.36 319.95,225.75 320.20,229.35 320.45,231.53 320.70,231.91 320.95,230.43 321.20,227.33 321.45,223.17 321.70,218.68 321.95,214.63 322.20,211.75 322.45,210.52 322.70,211.18 322.95,213.60 323.20,217.36 323.45,221.80 323.70,226.14 323.95,229.63 324.20,231.65 324.45,231.85 324.70,230.19 324.95,226.97 325.20,222.75 325.45,218.26 325.70,214.30 325.95,211.55 326.20,210.50 326.45,211.34 326.70,213.91 326.95,217.76 327.20,222.23 327.45,226.53 327.70,229.90 327.95,231.75 328.20,231.77 328.45,229.95 328.70,226.60 328.95,222.32 329.20,217.84 329.45,213.97 329.70,211.37 329.95,210.50 330.20,211.51 330.45,214.23 330.70,218.18 330.95,222.66 331.20,226.90 331.45,230.15 331.70,231.84 331.95,231.67 332.20,229.68 332.45,226.22 332.70,221.88 332.95,217.44 333.20,213.66 333.45,211.21 333.70,210.52 333.95,211.71 334.20,214.57 334.45,218.60 334.70,223.09 334.95,227.26 335.20,230.38 335.45,231.90 335.70,231.56 335.95,229.41 336.20,225.83 336.45,221.45 336.70,217.03 336.95,213.36 337.20,211.06 337.45,210.55 337.70,211.91 337.95,214.91 338.20,219.02 338.45,223.52 338.70,227.62 338.95,230.60 339.20,231.95 339.45,231.43 339.70,229.12 339.95,225.43 340.20,221.02 340.45,216.64 340.70,213.07 340.95,210.93 341.20,210.60 341.45,212.14 341.70,215.27 341.95,219.44 342.20,223.94 342.45,227.96 342.70,230.81 342.95,231.98 343.20,231.28 343.45,228.82 343.70,225.03 343.95,220.58 344.20,216.25 344.45,212.79 344.70,210.82 344.95,210.67 345.20,212.37 345.45,215.63 345.70,219.87 345.95,224.36 346.20,228.30 346.45,231.00 346.70,232.00 346.95,231.11 347.20,228.50 347.45,224.62 347.70,220.15 347.95,215.87 348.20,212.53 348.45,210.72 348.70,210.75 348.95,212.63 349.20,216.01 349.45,220.31 349.70,224.77 349.95,228.62 350.20,231.18 350.45,232.00 350.70,230.93 350.95,228.18 351.20,224.21 351.45,219.72 351.70,215.50 351.95,212.29 352.20,210.64 352.45,210.86 352.70,212.89 352.95,216.39 353.20,220.74 353.45,225.18 353.70,228.93 353.95,231.33 354.20,231.98 354.45,230.74 354.70,227.84 354.95,223.79 355.20,219.29 355.45,215.14 355.70,212.05 355.95,210.58 356.20,210.98 356.45,213.17 356.70,216.78 356.95,221.17 357.20,225.58 357.45,229.23 357.70,231.48 357.95,231.94 358.20,230.53 358.45,227.49 358.70,223.36 358.95,218.87 359.20,214.78 359.45,211.84 359.70,210.54 359.95,211.11 360.20,213.46 360.45,217.18 360.70,221.61 360.95,225.97 361.20,229.51 361.45,231.60 361.70,231.88 361.95,230.30 362.20,227.13 362.45,222.94 362.70,218.44 362.95,214.44 363.20,211.63 363.45,210.51 363.70,211.27 363.95,213.77 364.20,217.58 364.45,222.04 364.70,226.36 364.95,229.78 365.20,231.71 365.45,231.81 365.70,230.06 365.95,226.77 366.20,222.51 366.45,218.03 366.70,214.11 366.95,211.45 367.20,210.50 367.45,211.43 367.70,214.09 367.95,217.99 368.20,222.47 368.45,226.73 368.70,230.04 368.95,231.80 369.20,231.72 369.45,229.80 369.70,226.39 369.95,222.07 370.20,217.62 370.45,213.79 370.70,211.28 370.95,210.51 371.20,211.62 371.45,214.42 371.70,218.41 371.95,222.90 372.20,227.10 372.45,230.28 372.70,231.88 372.95,231.61 373.20,229.53 373.45,226.00 373.70,221.64 373.95,217.21 374.20,213.49 374.45,211.12 374.70,210.53 374.95,211.82 375.20,214.76 375.45,218.83 375.70,223.33 375.95,227.46 376.20,230.51 376.45,231.93 376.70,231.49 376.95,229.25 377.20,225.61 377.45,221.21 377.70,216.81 377.95,213.19 378.20,210.99 378.45,210.58 378.70,212.04 378.95,215.11 379.20,219.26 379.45,223.75 379.70,227.81 379.95,230.72 380.20,231.97 380.45,231.35 380.70,228.95 380.95,225.21 381.20,220.77 381.45,216.42 381.70,212.91 381.95,210.87 382.20,210.64 382.45,212.27 382.70,215.47 382.95,219.68 383.20,224.17 383.45,228.15 383.70,230.92 383.95,231.99 384.20,231.19 384.45,228.64 384.70,224.80 384.95,220.34 385.20,216.04 385.45,212.65 385.70,210.76 385.95,210.71 386.20,212.51 386.45,215.84 386.70,220.11 386.95,224.59 387.20,228.48 387.45,231.10 387.70,232.00 387.95,231.02 388.20,228.32 388.45,224.39 388.70,219.91 388.95,215.66 389.20,212.39 389.45,210.68 389.70,210.81 389.95,212.77 390.20,216.22 390.45,220.55 390.70,225.00 390.95,228.79 391.20,231.27 391.45,231.99 391.70,230.83 391.95,227.99 392.20,223.97 392.45,219.48 392.70,215.30 392.95,212.15 393.20,210.61 393.45,210.92 393.70,213.05 393.95,216.61 394.20,220.98 394.45,225.40 394.70,229.10 394.95,231.42 395.20,231.96 395.45,230.62 395.70,227.65 395.95,223.55 396.20,219.05 396.45,214.94 396.70,211.93 396.95,210.55 397.20,211.05 397.45,213.33 397.70,217.00 397.95,221.41 398.20,225.80 398.45,229.39 398.70,231.55 398.95,231.91 399.20,230.40 399.45,227.29 399.70,223.13 399.95,218.63 400.20,214.59 400.45,211.72 400.70,210.52 400.95,211.20 401.20,213.63 401.45,217.40 401.70,221.85 401.95,226.19 402.20,229.66 402.45,231.66 402.70,231.84 402.95,230.17 403.20,226.93 403.45,222.70 403.70,218.21 403.95,214.26 404.20,211.53 404.45,210.50 404.70,211.36 404.95,213.94 405.20,217.81 405.45,222.28 405.70,226.57 405.95,229.93 406.20,231.76 406.45,231.76 406.70,229.92 406.95,226.56 407.20,222.27 407.45,217.80 407.70,213.93 407.95,211.35 408.20,210.50 408.45,211.54 408.70,214.27 408.95,218.23 409.20,222.71 409.45,226.94 409.70,230.17 409.95,231.85 410.20,231.66 410.45,229.65 410.70,226.17 410.95,221.83 411.20,217.39 411.45,213.62 411.70,211.19 411.95,210.52 412.20,211.73 412.45,214.60 412.70,218.64 412.95,223.14 413.20,227.30 413.45,230.41 413.70,231.91 413.95,231.54 414.20,229.38 414.45,225.78 414.70,221.40 414.95,216.99 415.20,213.32 415.45,211.05 415.70,210.56 415.95,211.94 416.20,214.95 416.45,219.07 416.70,223.57 416.95,227.66 417.20,230.63 417.45,231.96 417.70,231.41 417.95,229.09 418.20,225.39 418.45,220.97 418.70,216.59 418.95,213.04 419.20,210.92 419.45,210.61 419.70,212.16 419.95,215.31 420.20,219.49 420.45,223.99 420.70,228.00 420.95,230.83 421.20,231.99 421.45,231.26 421.70,228.78 421.95,224.98 422.20,220.53 422.45,216.21 422.70,212.76 422.95,210.81 423.20,210.68 423.45,212.40 423.70,215.67 423.95,219.92 424.20,224.40 424.45,228.33 424.70,231.02 424.95,232.00 425.20,231.09 425.45,228.47 425.70,224.57 425.95,220.10 426.20,215.83 426.45,212.50 426.70,210.71 426.95,210.77 427.20,212.65 427.45,216.05 427.70,220.35 427.95,224.82 428.20,228.65 428.45,231.19 428.70,231.99 428.95,230.91 429.20,228.14 429.45,224.16 429.70,219.67 429.95,215.46 430.20,212.26 430.45,210.63 430.70,210.87 430.95,212.92 431.20,216.43 431.45,220.79 431.70,225.22 431.95,228.96 432.20,231.35 432.45,231.97 432.70,230.71 432.95,227.80 433.20,223.74 433.45,219.24 433.70,215.10 433.95,212.03 434.20,210.57 434.45,210.99 434.70,213.20 434.95,216.83 435.20,221.22 435.45,225.62 435.70,229.26 435.95,231.49 436.20,231.93 436.45,230.50 436.70,227.45 436.95,223.31 437.20,218.82 437.45,214.75 437.70,211.81 437.95,210.53 438.20,211.13 438.45,213.50 438.70,217.22 438.95,221.66 439.20,226.02 439.45,229.54 439.70,231.62 439.95,231.87 440.20,230.27 440.45,227.09 440.70,222.89 440.95,218.40 441.20,214.41 441.45,211.61 441.70,210.51 441.95,211.28 442.20,213.80 442.45,217.63 442.70,222.09 442.95,226.40 443.20,229.81 443.45,231.72 443.70,231.80 443.95,230.03 444.20,226.72 444.45,222.46 444.70,217.98 444.95,214.08 445.20,211.43 445.45,210.50 445.70,211.45 445.95,214.12 446.20,218.04 446.45,222.52 446.70,226.78 446.95,230.07 447.20,231.81 447.45,231.71 447.70,229.77 447.95,226.34 448.20,222.02 448.45,217.57 448.70,213.76 448.95,211.26 449.20,210.51 449.45,211.64 449.70,214.45 449.95,218.46 450.20,222.95 450.45,227.14 450.70,230.31 450.95,231.88 451.20,231.60 451.45,229.50 451.70,225.96 451.95,221.59 452.20,217.16 452.45,213.45 452.70,211.11 452.95,210.54 453.20,211.84 453.45,214.80 453.70,218.88 453.95,223.38 454.20,227.50 454.45,230.53 454.70,231.94 454.95,231.47 455.20,229.22 455.45,225.56 455.70,221.16 455.95,216.77 456.20,213.16 456.45,210.97 456.70,210.58 456.95,212.06 457.20,215.15 457.45,219.30 457.70,223.80 457.95,227.85 458.20,230.74 458.45,231.98 458.70,231.33 458.95,228.92 459.20,225.16 459.45,220.72 459.70,216.38 459.95,212.88 460.20,210.85 460.45,210.65 460.70,212.29 460.95,215.51 461.20,219.73 461.45,224.22 461.70,228.19 461.95,230.94 462.20,232.00 462.45,231.17 462.70,228.61 462.95,224.76 463.20,220.29 463.45,215.99 463.70,212.62 463.95,210.75 464.20,210.72 464.45,212.54 464.70,215.88 464.95,220.16 465.20,224.63 465.45,228.51 465.70,231.12 465.95,232.00 466.20,231.00 466.45,228.29 466.70,224.34 466.95,219.86 467.20,215.62 467.45,212.37 467.70,210.67 467.95,210.82 468.20,212.80 468.45,216.26 468.70,220.60 468.95,225.04 469.20,228.83 469.45,231.28 469.70,231.98 469.95,230.80 470.20,227.95 470.45,223.93 470.70,219.43 470.95,215.25 471.20,212.13 471.45,210.60 471.70,210.94 471.95,213.08 472.20,216.65 472.45,221.03 472.70,225.45 472.95,229.13 473.20,231.43 473.45,231.95 473.70,230.60 473.95,227.61 474.20,223.50 474.45,219.00 474.70,214.90 474.95,211.91 475.20,210.55 475.45,211.07 475.70,213.37 475.95,217.05 476.20,221.46 476.45,225.84 476.70,229.42 476.95,231.56 477.20,231.90 477.45,230.38 477.70,227.25 477.95,223.08 478.20,218.58 478.45,214.55 478.70,211.70 478.95,210.52 479.20,211.21 479.45,213.67 479.70,217.45 479.95,221.90 480.20,226.23 480.45,229.69 480.70,231.68 480.95,231.83 481.20,230.14 481.45,226.89 481.70,222.65 481.95,218.16 482.20,214.22 482.45,211.51 482.70,210.50 482.95,211.38 483.20,213.98 483.45,217.86 483.70,222.33 483.95,226.61 484.20,229.95 484.45,231.77 484.70,231.75 484.95,229.89 485.20,226.51 485.45,222.22 485.70,217.75 485.95,213.90 486.20,211.33 486.45,210.50 486.70,211.56 486.95,214.31 487.20,218.27 487.45,222.76 487.70,226.98 487.95,230.20 488.20,231.85 488.45,231.65 488.70,229.62 488.95,226.13 489.20,221.78 489.45,217.34 489.70,213.59 489.95,211.17 490.20,210.52 490.45,211.75 490.70,214.64 490.95,218.69 491.20,223.19 491.45,227.35 491.70,230.44 491.95,231.92 492.20,231.53 492.45,229.34 492.70,225.74 492.95,221.35 493.20,216.94 493.45,213.29 493.70,211.03 493.95,210.56 494.20,211.96 494.45,214.99 494.70,219.12 494.95,223.61 495.20,227.70 495.45,230.65 495.70,231.96 495.95,231.39 496.20,229.05 496.45,225.34 496.70,220.92 496.95,216.55 497.20,213.00 497.45,210.90 497.70,210.62 497.95,212.19 498.20,215.35 498.45,219.54 498.70,224.04 498.95,228.04 499.20,230.86 499.45,231.99 499.70,231.24 499.95,228.75 500.20,224.94 500.45,220.48 500.70,216.16 500.95,212.73 501.20,210.79 501.45,210.69 501.70,212.43 501.95,215.72 502.20,219.97 502.45,224.45 502.70,228.37 502.95,231.04 503.20,232.00 503.45,231.07 503.70,228.43 503.95,224.53 504.20,220.05 504.45,215.78 504.70,212.47 504.95,210.70 505.20,210.78 505.45,212.68 505.70,216.09 505.95,220.40 506.20,224.86 506.45,228.69 506.70,231.21 506.95,231.99 507.20,230.89 507.45,228.10 507.70,224.11 507.95,219.62 508.20,215.41 508.45,212.23 508.70,210.63 508.95,210.88 509.20,212.95 509.45,216.48 509.70,220.84 509.95,225.27 510.20,229.00 510.45,231.37 510.70,231.97 510.95,230.69 511.20,227.76 511.45,223.69 511.70,219.19 511.95,215.06 512.20,212.00 512.45,210.57 512.70,211.01 512.95,213.24 513.20,216.87 513.45,221.27 513.70,225.67 513.95,229.29 514.20,231.51 514.45,231.93 514.70,230.48 514.95,227.41 515.20,223.27 515.45,218.77 515.70,214.71 515.95,211.79 516.20,210.53 516.45,211.15 516.70,213.53 516.95,217.27 517.20,221.71 517.45,226.06 517.70,229.57 517.95,231.63 518.20,231.87 518.45,230.25 518.70,227.05 518.95,222.84 519.20,218.35 519.45,214.37 519.70,211.59 519.95,210.51 520.20,211.30 520.45,213.84 520.70,217.68 520.95,222.14 521.20,226.44 521.45,229.84 521.70,231.73 521.95,231.79 522.20,230.00 522.45,226.68 522.70,222.41 522.95,217.93 523.20,214.04 523.45,211.41 523.70,210.50 523.95,211.47 524.20,214.16 524.45,218.09 524.70,222.57 524.95,226.82 525.20,230.09 525.45,231.82 525.70,231.70 525.95,229.74 526.20,226.30 526.45,221.98 526.70,217.52 526.95,213.72 527.20,211.24 527.45,210.51 527.70,211.66 527.95,214.49 528.20,218.51 528.45,223.00 528.70,227.19 528.95,230.33 529.20,231.89 529.45,231.58 529.70,229.47 529.95,225.91 530.20,221.54 530.45,217.12 530.70,213.42 530.95,211.09 531.20,210.54 531.45,211.87 531.70,214.84 531.95,218.93 532.20,223.43 532.45,227.54 532.70,230.56 532.95,231.94 533.20,231.46 533.45,229.18 533.70,225.52 533.95,221.11 534.20,216.72 534.45,213.13 534.70,210.96 534.95,210.59 535.20,212.09 535.45,215.19 535.70,219.35 535.95,223.85 536.20,227.89 536.45,230.77 536.70,231.98 536.95,231.31 537.20,228.88 537.45,225.12 537.70,220.67 537.95,216.33 538.20,212.85 538.45,210.84 538.70,210.65 538.95,212.32 539.20,215.55 539.45,219.78 539.70,224.27 539.95,228.23 540.20,230.96 540.45,232.00 540.70,231.15 540.95,228.57 541.20,224.71 541.45,220.24 541.70,215.95 541.95,212.59 542.20,210.74 542.45,210.73 542.70,212.57 542.95,215.93 543.20,220.21 543.45,224.68 543.70,228.55 543.95,231.14 544.20,232.00 544.45,230.97 544.70,228.25 544.95,224.30 545.20,219.81 545.45,215.58 545.70,212.34 545.95,210.66 546.20,210.83 546.45,212.83 546.70,216.31 546.95,220.65 547.20,225.09 547.45,228.86 547.70,231.30 547.95,231.98 548.20,230.78 548.45,227.91 548.70,223.88 548.95,219.38 549.20,215.21 549.45,212.10 549.70,210.59 549.95,210.95 550.20,213.11 550.45,216.70 550.70,221.08 550.95,225.49 551.20,229.16 551.45,231.45 551.70,231.95 551.95,230.57 552.20,227.57 552.45,223.45 552.70,218.96 552.95,214.86 553.20,211.88 553.45,210.54 553.70,211.08 553.95,213.40 554.20,217.09 554.45,221.51 554.70,225.89 554.95,229.45 555.20,231.58 555.45,231.89 555.70,230.35 555.95,227.21 556.20,223.03 556.45,218.53 556.70,214.52 556.95,211.68 557.20,210.51 557.45,211.23 557.70,213.70 557.95,217.50 558.20,221.95 558.45,226.28 558.70,229.72 558.95,231.69 559.20,231.83 559.45,230.11 559.70,226.84 559.95,222.60 560.20,218.12 560.45,214.18 560.70,211.49 560.95,210.50 561.20,211.40 561.45,214.02 561.70,217.91 561.95,222.38 562.20,226.65 562.45,229.98 562.70,231.78 562.95,231.74 563.20,229.86 563.45,226.47 563.70,222.17 563.95,217.70 564.20,213.86 564.45,211.31 564.70,210.50 564.95,211.58 565.20,214.34 565.45,218.32 565.70,222.81 565.95,227.03 566.20,230.23 566.45,231.86 566.70,231.64 566.95,229.59 567.20,226.09 567.45,221.73 567.70,217.30 567.95,213.55 568.20,211.16 568.45,210.53 568.70,211.78 568.95,214.68 569.20,218.74 569.45,223.24 569.70,227.39 569.95,230.46 570.20,231.92 570.45,231.52 570.70,229.31 570.95,225.69 571.20,221.30 571.45,216.90 571.70,213.26 571.95,211.01 572.20,210.57 572.45,211.99 572.70,215.03 572.95,219.16 573.20,223.66 573.45,227.74 573.70,230.68 573.95,231.97 574.20,231.38 574.45,229.02 574.70,225.30 574.95,220.87 575.20,216.50 575.45,212.97 575.70,210.89 575.95,210.62 576.20,212.22 576.45,215.39 576.70,219.59 576.95,224.08 577.20,228.08 577.45,230.88 577.70,231.99 577.95,231.22 578.20,228.71 578.45,224.89 578.70,220.43 578.95,216.12 579.20,212.70 579.45,210.78 579.70,210.70 579.95,212.46 580.20,215.76 580.45,220.02 580.70,224.50 580.95,228.41 581.20,231.06 581.45,232.00 581.70,231.05 581.95,228.39 582.20,224.48 582.45,220.00 582.70,215.74 582.95,212.45 583.20,210.69 583.45,210.79 583.70,212.71 583.95,216.14 584.20,220.45 584.45,224.91 584.70,228.73 584.95,231.23 585.20,231.99 585.45,230.87 585.70,228.06 585.95,224.06 586.20,219.57 586.45,215.37 586.70,212.20 586.95,210.62 587.20,210.90 587.45,212.99 587.70,216.52 587.95,220.89 588.20,225.32 588.45,229.03 588.70,231.39 588.95,231.96 589.20,230.67 589.45,227.72 589.70,223.64 589.95,219.14 590.20,215.01 590.45,211.98 590.70,210.56 590.95,211.02 591.20,213.27 591.45,216.92 591.70,221.32 591.95,225.71 592.20,229.32 592.45,231.52 592.70,231.92 592.95,230.45 593.20,227.37 593.45,223.22 593.70,218.72 593.95,214.67 594.20,211.77 594.45,210.53 594.70,211.16 594.95,213.57 595.20,217.32 595.45,221.75 595.70,226.10 595.95,229.60 596.20,231.64 596.45,231.86 596.70,230.22 596.95,227.01 597.20,222.79 597.45,218.30 597.70,214.33 597.95,211.57 598.20,210.50 598.45,211.32" fill="none" stroke="#9a4a24" stroke-width="1.05" stroke-linejoin="round"/>
<g fill="#fff" stroke="#9a4a24" stroke-width="1"><path d="M63.00 388.80L67.30 396.00L58.70 396.00Z"/><path d="M73.90 388.80L78.20 396.00L69.60 396.00Z"/><path d="M84.80 388.80L89.10 396.00L80.50 396.00Z"/><path d="M95.70 388.80L100.00 396.00L91.40 396.00Z"/><path d="M106.60 388.80L110.90 396.00L102.30 396.00Z"/><path d="M117.50 388.80L121.80 396.00L113.20 396.00Z"/><path d="M128.40 388.80L132.70 396.00L124.10 396.00Z"/><path d="M139.30 388.80L143.60 396.00L135.00 396.00Z"/><path d="M150.20 388.80L154.50 396.00L145.90 396.00Z"/><path d="M160.90 346.40L165.20 353.60L156.60 353.60Z"/><path d="M172.20 207.60L176.50 214.80L167.90 214.80Z"/><path d="M183.30 219.20L187.60 226.40L179.00 226.40Z"/><path d="M193.60 224.40L197.90 231.60L189.30 231.60Z"/><path d="M204.70 225.26L209.00 232.46L200.40 232.46Z"/><path d="M215.60 221.24L219.90 228.44L211.30 228.44Z"/><path d="M226.50 216.33L230.80 223.53L222.20 223.53Z"/><path d="M237.40 211.58L241.70 218.78L233.10 218.78Z"/><path d="M248.30 208.02L252.60 215.22L244.00 215.22Z"/><path d="M259.20 206.43L263.50 213.63L254.90 213.63Z"/><path d="M270.10 207.13L274.40 214.33L265.80 214.33Z"/><path d="M281.00 209.99L285.30 217.19L276.70 217.19Z"/><path d="M291.90 214.38L296.20 221.58L287.60 221.58Z"/><path d="M302.80 219.36L307.10 226.56L298.50 226.56Z"/><path d="M313.70 223.84L318.00 231.04L309.40 231.04Z"/><path d="M324.60 226.87L328.90 234.07L320.30 234.07Z"/><path d="M335.50 227.79L339.80 234.99L331.20 234.99Z"/><path d="M346.40 226.39L350.70 233.59L342.10 233.59Z"/><path d="M357.30 222.99L361.60 230.19L353.00 230.19Z"/><path d="M368.20 218.31L372.50 225.51L363.90 225.51Z"/><path d="M379.10 213.36L383.40 220.56L374.80 220.56Z"/><path d="M390.00 209.23L394.30 216.43L385.70 216.43Z"/><path d="M400.90 206.79L405.20 213.99L396.60 213.99Z"/><path d="M411.80 206.58L416.10 213.78L407.50 213.78Z"/><path d="M422.70 208.63L427.00 215.83L418.40 215.83Z"/><path d="M433.60 212.52L437.90 219.72L429.30 219.72Z"/><path d="M444.50 217.39L448.80 224.59L440.20 224.59Z"/><path d="M455.40 222.20L459.70 229.40L451.10 229.40Z"/><path d="M466.30 225.90L470.60 233.10L462.00 233.10Z"/><path d="M477.20 227.70L481.50 234.90L472.90 234.90Z"/><path d="M488.10 227.21L492.40 234.41L483.80 234.41Z"/><path d="M499.00 224.53L503.30 231.73L494.70 231.73Z"/><path d="M509.90 220.24L514.20 227.44L505.60 227.44Z"/><path d="M520.80 215.28L525.10 222.48L516.50 222.48Z"/><path d="M531.70 210.70L536.00 217.90L527.40 217.90Z"/><path d="M542.60 207.50L546.90 214.70L538.30 214.70Z"/><path d="M553.50 206.38L557.80 213.58L549.20 213.58Z"/><path d="M564.40 207.57L568.70 214.77L560.10 214.77Z"/><path d="M575.30 210.82L579.60 218.02L571.00 218.02Z"/><path d="M586.20 215.42L590.50 222.62L581.90 222.62Z"/><path d="M597.10 220.38L601.40 227.58L592.80 227.58Z"/></g>
<polyline points="63.00,393.60 160.30,393.60 160.90,386.00 161.40,362.00 161.80,330.00 162.10,290.00 162.40,255.00 162.70,249.50 163.10,256.00 163.70,278.00 164.30,300.00 164.80,335.00 165.20,362.00 165.60,385.00 166.10,393.00 166.70,389.00 167.40,373.00 168.20,358.60 169.20,347.00 170.20,341.50 171.00,340.30 171.20,341.58 171.45,342.80 171.70,344.89 171.95,347.63 172.20,350.72 172.45,353.80 172.70,356.50 172.95,358.46 173.20,359.42 173.45,359.22 173.70,357.86 173.95,355.48 174.20,352.38 174.45,348.95 174.70,345.66 174.95,342.95 175.20,341.23 175.45,340.77 175.70,341.67 175.95,343.84 176.20,347.02 176.45,350.78 176.70,354.60 176.95,357.93 177.20,360.30 177.45,361.32 177.70,360.84 177.95,358.89 178.20,355.74 178.45,351.84 178.70,347.77 178.95,344.15 179.20,341.54 179.45,340.35 179.70,340.82 179.95,342.88 180.20,346.26 180.45,350.47 180.70,354.85 180.95,358.74 181.20,361.52 181.45,362.74 181.70,362.19 181.95,359.94 182.20,356.32 182.45,351.90 182.70,347.38 182.95,343.48 183.20,340.86 183.45,339.94 183.70,340.91 183.95,343.63 184.20,347.69 184.45,352.44 184.70,357.12 184.95,360.96 185.20,363.34 185.45,363.84 185.70,362.37 185.95,359.15 186.20,354.71 186.45,349.77 186.70,345.15 186.95,341.62 187.20,339.80 187.45,339.99 187.70,342.19 187.95,346.05 188.20,350.94 188.45,356.05 188.70,360.53 188.95,363.63 189.20,364.80 189.45,363.84 189.70,360.91 189.95,356.48 190.20,351.30 190.45,346.24 190.70,342.17 190.95,339.78 191.20,339.50 191.45,341.39 191.70,345.15 191.95,350.14 192.20,355.53 192.45,360.41 192.70,363.93 192.95,365.49 193.20,364.81 193.45,362.00 193.70,357.54 193.95,352.17 194.20,346.82 194.45,342.41 194.70,339.71 194.95,339.19 195.20,340.95 195.45,344.71 195.70,349.83 195.95,355.42 196.20,360.55 196.45,364.31 196.70,366.05 196.95,365.48 197.20,362.67 197.45,358.10 197.70,352.57 197.95,347.02 198.20,342.42 198.45,339.57 198.70,338.97 198.95,340.74 199.20,344.58 199.45,349.83 199.70,355.59 199.95,360.87 200.20,364.75 200.45,366.54 200.70,365.94 200.95,363.03 201.20,358.33 201.45,352.64 201.70,346.95 201.95,342.25 202.20,339.36 202.45,338.80 202.70,340.66 202.95,344.64 203.20,350.05 203.45,355.95 203.70,361.31 203.95,365.21 204.20,366.96 204.45,366.25 204.70,363.19 204.95,358.32 205.20,352.49 205.45,346.70 205.70,341.97 205.95,339.12 206.20,338.67 206.45,340.69 206.70,344.84 206.95,350.41 207.20,356.42 207.45,361.82 207.70,365.68 207.95,367.31 208.20,366.44 208.45,363.19 208.70,358.15 208.95,352.18 209.20,346.33 209.45,341.62 209.70,338.88 209.95,338.59 210.20,340.80 210.45,345.15 210.70,350.86 210.95,356.95 211.20,362.36 211.45,366.13 211.70,367.60 211.95,366.52 212.20,363.07 212.45,357.85 212.70,351.77 212.95,345.89 213.20,341.24 213.45,338.64 213.70,338.55 213.95,340.98 214.20,345.52 214.45,351.38 214.70,357.53 214.95,362.90 215.20,366.55 215.45,367.83 215.70,366.53 215.95,362.86 216.20,357.46 216.45,351.29 216.70,345.40 216.95,340.85 217.20,338.42 217.45,338.55 217.70,341.21 217.95,345.95 218.20,351.94 218.45,358.13 218.70,363.43 218.95,366.93 219.20,368.00 219.45,366.46 219.70,362.57 219.95,357.01 220.20,350.76 220.45,344.90 220.70,340.46 220.95,338.23 221.20,338.59 221.45,341.49 221.70,346.42 221.95,352.52 222.20,358.73 222.45,363.95 222.70,367.28 222.95,368.12 223.20,366.33 223.45,362.22 223.70,356.51 223.95,350.19 224.20,344.38 224.45,340.08 224.70,338.06 224.95,338.68 225.20,341.81 225.45,346.93 225.70,353.13 225.95,359.33 226.20,364.45 226.45,367.58 226.70,368.18 226.95,366.15 227.20,361.82 227.45,355.97 227.70,349.61 227.95,343.86 228.20,339.73 228.45,337.93 228.70,338.79 228.95,342.17 229.20,347.46 229.45,353.74 229.70,359.93 229.95,364.92 230.20,367.85 230.45,368.20 230.70,365.91 230.95,361.38 231.20,355.40 231.45,349.02 231.70,343.35 231.95,339.39 232.20,337.83 232.45,338.95 232.70,342.55 232.95,348.01 233.20,354.37 233.45,360.51 233.70,365.36 233.95,368.08 234.20,368.18 234.45,365.64 234.70,360.91 234.95,354.81 235.20,348.42 235.45,342.85 235.70,339.07 235.95,337.76 236.20,339.14 236.45,342.97 236.70,348.58 236.95,354.99 237.20,361.08 237.45,365.78 237.70,368.27 237.95,368.11 238.20,365.33 238.45,360.41 238.70,354.21 238.95,347.82 239.20,342.36 239.45,338.79 239.70,337.72 239.95,339.36 240.20,343.40 240.45,349.16 240.70,355.61 240.95,361.64 241.20,366.17 241.45,368.43 241.70,368.01 241.95,364.98 242.20,359.88 242.45,353.59 242.70,347.23 242.95,341.89 243.20,338.52 243.45,337.71 243.70,339.61 243.95,343.87 244.20,349.75 244.45,356.24 244.70,362.18 244.95,366.54 245.20,368.55 245.45,367.87 245.70,364.60 245.95,359.33 246.20,352.97 246.45,346.64 246.70,341.44 246.95,338.29 247.20,337.74 247.45,339.88 247.70,344.35 247.95,350.36 248.20,356.85 248.45,362.70 248.70,366.87 248.95,368.64 249.20,367.70 249.45,364.20 249.70,358.76 249.95,352.34 250.20,346.06 250.45,341.01 250.70,338.08 250.95,337.79 251.20,340.19 251.45,344.86 251.70,350.97 251.95,357.47 252.20,363.21 252.45,367.18 252.70,368.70 252.95,367.49 253.20,363.77 253.45,358.18 253.70,351.71 253.95,345.49 254.20,340.60 254.45,337.91 254.70,337.88 254.95,340.52 255.20,345.38 255.45,351.59 255.70,358.08 255.95,363.70 256.20,367.47 256.45,368.73 256.70,367.26 256.95,363.32 257.20,357.59 257.45,351.08 257.70,344.93 257.95,340.21 258.20,337.75 258.45,337.99 258.70,340.88 258.95,345.92 259.20,352.21 259.45,358.67 259.70,364.17 259.95,367.72 260.20,368.73 260.45,367.00 260.70,362.84 260.95,356.98 261.20,350.45 261.45,344.38 261.70,339.84 261.95,337.63 262.20,338.13 262.45,341.26 262.70,346.47 262.95,352.84 263.20,359.27 263.45,364.62 263.70,367.95 263.95,368.70 264.20,366.71 264.45,362.35 264.70,356.37 264.95,349.82 265.20,343.85 265.45,339.50 265.70,337.54 265.95,338.30 266.20,341.67 266.45,347.03 266.70,353.47 266.95,359.85 267.20,365.05 267.45,368.16 267.70,368.64 267.95,366.40 268.20,361.84 268.45,355.75 268.70,349.20 268.95,343.33 269.20,339.18 269.45,337.47 269.70,338.50 269.95,342.09 270.20,347.61 270.45,354.10 270.70,360.42 270.95,365.45 271.20,368.33 271.45,368.55 271.70,366.06 271.95,361.31 272.20,355.12 272.45,348.58 272.70,342.83 272.95,338.89 273.20,337.43 273.45,338.73 273.70,342.54 273.95,348.20 274.20,354.73 274.45,360.97 274.70,365.84 274.95,368.48 275.20,368.43 275.45,365.70 275.70,360.76 275.95,354.49 276.20,347.97 276.45,342.35 276.70,338.62 276.95,337.42 277.20,338.98 277.45,343.00 277.70,348.80 277.95,355.36 278.20,361.52 278.45,366.21 278.70,368.61 278.95,368.29 279.20,365.32 279.45,360.20 279.70,353.85 279.95,347.37 280.20,341.89 280.45,338.37 280.70,337.44 280.95,339.25 281.20,343.49 281.45,349.41 281.70,355.98 281.95,362.05 282.20,366.55 282.45,368.70 282.70,368.12 282.95,364.91 283.20,359.63 283.45,353.21 283.70,346.77 283.95,341.44 284.20,338.15 284.45,337.48 284.70,339.55 284.95,343.99 285.20,350.03 285.45,356.60 285.70,362.57 285.95,366.88 286.20,368.77 286.45,367.93 286.70,364.48 286.95,359.05 287.20,352.57 287.45,346.19 287.70,341.02 287.95,337.96 288.20,337.56 288.45,339.87 288.70,344.51 288.95,350.65 289.20,357.22 289.45,363.07 289.70,367.17 289.95,368.82 290.20,367.71 290.45,364.04 290.70,358.46 290.95,351.94 291.20,345.62 291.45,340.61 291.70,337.79 291.95,337.65 292.20,340.22 292.45,345.04 292.70,351.27 292.95,357.83 293.20,363.55 293.45,367.45 293.70,368.83 293.95,367.46 294.20,363.57 294.45,357.85 294.70,351.30 294.95,345.06 295.20,340.23 295.45,337.65 295.70,337.78 295.95,340.59 296.20,345.59 296.45,351.90 296.70,358.43 296.95,364.02 297.20,367.70 297.45,368.82 297.70,367.19 297.95,363.09 298.20,357.24 298.45,350.67 298.70,344.51 298.95,339.87 299.20,337.53 299.45,337.93 299.70,340.98 299.95,346.15 300.20,352.54 300.45,359.02 300.70,364.47 300.95,367.93 301.20,368.79 301.45,366.90 301.70,362.59 301.95,356.62 302.20,350.04 302.45,343.98 302.70,339.53 302.95,337.45 303.20,338.10 303.45,341.39 303.70,346.72 303.95,353.17 304.20,359.61 304.45,364.90 304.70,368.13 304.95,368.73 305.20,366.58 305.45,362.08 305.70,356.00 305.95,349.41 306.20,343.47 306.45,339.21 306.70,337.38 306.95,338.31 307.20,341.82 307.45,347.31 307.70,353.81 307.95,360.18 308.20,365.32 308.45,368.31 308.70,368.64 308.95,366.25 309.20,361.55 309.45,355.37 309.70,348.79 309.95,342.97 310.20,338.92 310.45,337.35 310.70,338.53 310.95,342.27 311.20,347.90 311.45,354.44 311.70,360.74 311.95,365.71 312.20,368.46 312.45,368.53 312.70,365.89 312.95,361.00 313.20,354.74 313.45,348.18 313.70,342.48 313.95,338.64 314.20,337.33 314.45,338.78 314.70,342.74 314.95,348.50 315.20,355.07 315.45,361.30 315.70,366.08 315.95,368.59 316.20,368.39 316.45,365.50 316.70,360.45 316.95,354.10 317.20,347.58 317.45,342.02 317.70,338.40 317.95,337.35 318.20,339.06 318.45,343.22 318.70,349.11 318.95,355.70 319.20,361.83 319.45,366.43 319.70,368.69 319.95,368.22 320.20,365.10 320.45,359.88 320.70,353.46 320.95,346.98 321.20,341.57 321.45,338.18 321.70,337.39 321.95,339.36 322.20,343.72 322.45,349.73 322.70,356.33 322.95,362.35 323.20,366.76 323.45,368.77 323.70,368.03 323.95,364.68 324.20,359.30 324.45,352.82 324.70,346.40 324.95,341.14 325.20,337.98 325.45,337.46 325.70,339.68 325.95,344.24 326.20,350.36 326.45,356.95 326.70,362.86 326.95,367.07 327.20,368.82 327.45,367.82 327.70,364.24 327.95,358.70 328.20,352.19 328.45,345.82 328.70,340.73 328.95,337.81 329.20,337.55 329.45,340.02 329.70,344.78 329.95,350.98 330.20,357.56 330.45,363.35 330.70,367.35 330.95,368.85 331.20,367.58 331.45,363.78 331.70,358.10 331.95,351.55 332.20,345.26 332.45,340.35 332.70,337.66 332.95,337.67 333.20,340.39 333.45,345.32 333.70,351.62 333.95,358.17 334.20,363.83 334.45,367.61 334.70,368.84 334.95,367.32 335.20,363.30 335.45,357.50 335.70,350.92 335.95,344.71 336.20,339.98 336.45,337.54 336.70,337.82 336.95,340.77 337.20,345.88 337.45,352.25 337.70,358.77 337.95,364.29 338.20,367.84 338.45,368.82 338.70,367.03 338.95,362.81 339.20,356.88 339.45,350.28 339.70,344.18 339.95,339.63 340.20,337.44 340.45,337.99 340.70,341.18 340.95,346.45 341.20,352.89 341.45,359.36 341.70,364.73 341.95,368.06 342.20,368.76 342.45,366.73 342.70,362.30 342.95,356.26 343.20,349.66 343.45,343.66 343.70,339.31 343.95,337.37 344.20,338.19 344.45,341.61 344.70,347.04 344.95,353.52 345.20,359.94 345.45,365.15 345.70,368.24 345.95,368.69 346.20,366.40 346.45,361.77 346.70,355.63 346.95,349.04 347.20,343.16 347.45,339.01 347.70,337.33 347.95,338.41 348.20,342.05 348.45,347.63 348.70,354.16 348.95,360.50 349.20,365.55 349.45,368.41 349.70,368.58 349.95,366.04 350.20,361.23 350.45,355.00 350.70,348.42 350.95,342.67 351.20,338.73 351.45,337.31 351.70,338.65 351.95,342.52 352.20,348.23 352.45,354.80 352.70,361.06 352.95,365.93 353.20,368.54 353.45,368.45 353.70,365.67 353.95,360.68 354.20,354.36 354.45,347.82 354.70,342.20 354.95,338.48 355.20,337.32 355.45,338.92 355.70,343.00 355.95,348.84 356.20,355.43 356.45,361.60 356.70,366.29 356.95,368.66 357.20,368.30 357.45,365.28 357.70,360.12 357.95,353.73 358.20,347.22 358.45,341.74 358.70,338.25 358.95,337.35 359.20,339.21 359.45,343.49 359.70,349.46 359.95,356.06 360.20,362.13 360.45,366.62 360.70,368.74 360.95,368.12 361.20,364.86 361.45,359.54 361.70,353.09 361.95,346.63 362.20,341.31 362.45,338.04 362.70,337.41 362.95,339.52 363.20,344.01 363.45,350.08 363.70,356.68 363.95,362.65 364.20,366.94 364.45,368.80 364.70,367.92 364.95,364.43 365.20,358.95 365.45,352.45 365.70,346.06 365.95,340.89 366.20,337.86 366.45,337.50 366.70,339.86 366.95,344.54 367.20,350.71 367.45,357.30 367.70,363.15 367.95,367.23 368.20,368.84 368.45,367.69 368.70,363.98 368.95,358.36 369.20,351.81 369.45,345.49 369.70,340.50 369.95,337.71 370.20,337.61 370.45,340.22 370.70,345.08 370.95,351.34 371.20,357.91 371.45,363.63 371.70,367.50 371.95,368.85 372.20,367.44 372.45,363.51 372.70,357.75 372.95,351.18 373.20,344.94 373.45,340.12 373.70,337.57 373.95,337.74 374.20,340.60 374.45,345.63 374.70,351.98 374.95,358.51 375.20,364.09 375.45,367.75 375.70,368.83 375.95,367.16 376.20,363.02 376.45,357.14 376.70,350.55 376.95,344.40 377.20,339.77 377.45,337.47 377.70,337.90 377.95,340.99 378.20,346.20 378.45,352.61 378.70,359.10 378.95,364.54 379.20,367.97 379.45,368.79 379.70,366.86 379.95,362.52 380.20,356.52 380.45,349.92 380.70,343.87 380.95,339.44 381.20,337.39 381.45,338.09 381.70,341.41 381.95,346.78 382.20,353.25 382.45,359.69 382.70,364.97 382.95,368.17 383.20,368.72 383.45,366.54 383.70,362.00 383.95,355.89 384.20,349.30 384.45,343.36 384.70,339.13 384.95,337.34 385.20,338.30 385.45,341.85 385.70,347.37 385.95,353.89 386.20,360.26 386.45,365.38 386.70,368.34 386.95,368.63 387.20,366.20 387.45,361.46 387.70,355.26 387.95,348.68 388.20,342.87 388.45,338.84 388.70,337.31 388.95,338.54 389.20,342.31 389.45,347.97 389.70,354.52 389.95,360.82 390.20,365.77 390.45,368.49 390.70,368.51 390.95,365.83 391.20,360.92 391.45,354.63 391.70,348.07 391.95,342.39 392.20,338.58 392.45,337.30 392.70,338.79 392.95,342.78 393.20,348.58 393.45,355.16 393.70,361.37 393.95,366.14 394.20,368.61 394.45,368.37 394.70,365.45 394.95,360.36 395.20,353.99 395.45,347.47 395.70,341.93 395.95,338.34 396.20,337.33 396.45,339.08 396.70,343.28 396.95,349.19 397.20,355.79 397.45,361.91 397.70,366.48 397.95,368.71 398.20,368.20 398.45,365.04 398.70,359.79 398.95,353.36 399.20,346.88 399.45,341.49 399.70,338.12 399.95,337.38 400.20,339.38 400.45,343.78 400.70,349.81 400.95,356.41 401.20,362.43 401.45,366.81 401.70,368.78 401.95,368.01 402.20,364.61 402.45,359.20 402.70,352.72 402.95,346.30 403.20,341.06 403.45,337.93 403.70,337.45 403.95,339.71 404.20,344.31 404.45,350.44 404.70,357.03 404.95,362.94 405.20,367.11 405.45,368.83 405.70,367.79 405.95,364.17 406.20,358.61 406.45,352.08 406.70,345.73 406.95,340.66 407.20,337.77 407.45,337.55 407.70,340.06 407.95,344.84 408.20,351.07 408.45,357.65 408.70,363.43 408.95,367.39 409.20,368.85 409.45,367.55 409.70,363.71 409.95,358.01 410.20,351.45 410.45,345.17 410.70,340.28 410.95,337.62 411.20,337.68 411.45,340.43 411.70,345.39 411.95,351.70 412.20,358.25 412.45,363.90 412.70,367.65 412.95,368.84 413.20,367.28 413.45,363.23 413.70,357.40 413.95,350.81 414.20,344.62 414.45,339.91 414.70,337.51 414.95,337.83 415.20,340.82 415.45,345.96 415.70,352.34 415.95,358.85 416.20,364.35 416.45,367.88 416.70,368.81 416.95,366.99 417.20,362.73 417.45,356.78 417.70,350.18 417.95,344.09 418.20,339.57 418.45,337.42 418.70,338.00 418.95,341.23 419.20,346.53 419.45,352.98 419.70,359.44 419.95,364.79 420.20,368.09 420.45,368.76 420.70,366.68 420.95,362.22 421.20,356.16 421.45,349.56 421.70,343.57 421.95,339.25 422.20,337.35 422.45,338.21 422.70,341.66 422.95,347.12 423.20,353.62 423.45,360.02 423.70,365.21 423.95,368.27 424.20,368.67 424.45,366.34 424.70,361.69 424.95,355.53 425.20,348.94 425.45,343.07 425.70,338.96 425.95,337.31 426.20,338.43 426.45,342.11 426.70,347.71 426.95,354.25 427.20,360.59 427.45,365.60 427.70,368.43 427.95,368.57 428.20,365.99 428.45,361.15 428.70,354.90 428.95,348.33 429.20,342.59 429.45,338.68 429.70,337.30 429.95,338.68 430.20,342.58 430.45,348.32 430.70,354.89 430.95,361.14 431.20,365.98 431.45,368.56 431.70,368.43 431.95,365.61 432.20,360.60 432.45,354.26 432.70,347.72 432.95,342.12 433.20,338.43 433.45,337.31 433.70,338.95 433.95,343.06 434.20,348.93 434.45,355.52 434.70,361.68 434.95,366.34 435.20,368.67 435.45,368.27 435.70,365.22 435.95,360.03 436.20,353.63 436.45,347.13 436.70,341.67 436.95,338.21 437.20,337.35 437.45,339.25 437.70,343.56 437.95,349.55 438.20,356.15 438.45,362.21 438.70,366.67 438.95,368.75 439.20,368.09 439.45,364.80 439.70,359.45 439.95,352.99 440.20,346.54 440.45,341.24 440.70,338.01 440.95,337.42 441.20,339.57 441.45,344.08 441.70,350.17 441.95,356.77 442.20,362.72 442.45,366.98 442.70,368.81 442.95,367.88 443.20,364.36 443.45,358.86 443.70,352.35 443.95,345.97 444.20,340.83 444.45,337.83 444.70,337.51 444.95,339.91 445.20,344.61 445.45,350.80 445.70,357.39 445.95,363.22 446.20,367.27 446.45,368.84 446.70,367.65 446.95,363.91 447.20,358.27 447.45,351.72 447.70,345.40 447.95,340.44 448.20,337.68 448.45,337.62 448.70,340.27 448.95,345.16 449.20,351.43 449.45,358.00 449.70,363.70 449.95,367.54 450.20,368.85 450.45,367.40 450.70,363.43 450.95,357.66 451.20,351.08 451.45,344.85 451.70,340.06 451.95,337.55 452.20,337.76 452.45,340.65 452.70,345.71 452.95,352.07 453.20,358.60 453.45,364.16 453.70,367.78 453.95,368.83 454.20,367.12 454.45,362.95 454.70,357.05 454.95,350.45 455.20,344.32 455.45,339.71 455.70,337.45 455.95,337.93 456.20,341.05 456.45,346.28 456.70,352.71 456.95,359.19 457.20,364.61 457.45,368.00 457.70,368.78 457.95,366.81 458.20,362.44 458.45,356.42 458.70,349.82 458.95,343.79 459.20,339.39 459.45,337.38 459.70,338.12 459.95,341.48 460.20,346.87 460.45,353.34 460.70,359.77 460.95,365.03 461.20,368.20 461.45,368.71 461.70,366.49 461.95,361.92 462.20,355.80 462.45,349.20 462.70,343.28 462.95,339.08 463.20,337.33 463.45,338.33 463.70,341.92 463.95,347.46 464.20,353.98 464.45,360.35 464.70,365.44 464.95,368.37 465.20,368.61 465.45,366.14 465.70,361.38 465.95,355.17 466.20,348.59 466.45,342.79 466.70,338.80 466.95,337.30 467.20,338.57 467.45,342.38 467.70,348.06 467.95,354.62 468.20,360.91 468.45,365.82 468.70,368.51 468.95,368.49 469.20,365.78 469.45,360.83 469.70,354.53 469.95,347.98 470.20,342.32 470.45,338.54 470.70,337.30 470.95,338.83 471.20,342.85 471.45,348.67 471.70,355.25 471.95,361.45 472.20,366.19 472.45,368.63 472.70,368.34 472.95,365.39 473.20,360.27 473.45,353.90 473.70,347.38 473.95,341.86 474.20,338.30 474.45,337.33 474.70,339.12 474.95,343.35 475.20,349.28 475.45,355.88 475.70,361.99 475.95,366.53 476.20,368.72 476.45,368.17 476.70,364.98 476.95,359.70 477.20,353.26 477.45,346.79 477.70,341.42 477.95,338.09 478.20,337.38 478.45,339.43 478.70,343.86 478.95,349.90 479.20,356.51 479.45,362.51 479.70,366.85 479.95,368.79 480.20,367.97 480.45,364.55 480.70,359.12 480.95,352.62 481.20,346.21 481.45,341.00 481.70,337.90 481.95,337.46 482.20,339.76 482.45,344.38 482.70,350.53 482.95,357.13 483.20,363.01 483.45,367.15 483.70,368.83 483.95,367.75 484.20,364.10 484.45,358.52 484.70,351.99 484.95,345.64 485.20,340.60 485.45,337.74 485.70,337.57 485.95,340.11 486.20,344.92 486.45,351.16 486.70,357.74 486.95,363.50 487.20,367.43 487.45,368.85 487.70,367.51 487.95,363.64 488.20,357.92 488.45,351.35 488.70,345.09 488.95,340.22 489.20,337.60 489.45,337.70 489.70,340.48 489.95,345.48 490.20,351.80 490.45,358.34 490.70,363.97 490.95,367.68 491.20,368.84 491.45,367.24 491.70,363.16 491.95,357.31 492.20,350.72 492.45,344.54 492.70,339.86 492.95,337.49 493.20,337.85 493.45,340.88 493.70,346.04 493.95,352.43 494.20,358.94 494.45,364.42 494.70,367.91 494.95,368.81 495.20,366.95 495.45,362.66 495.70,356.69 495.95,350.09 496.20,344.01 496.45,339.52 496.70,337.41 496.95,338.03 497.20,341.29 497.45,346.62 497.70,353.07 497.95,359.53 498.20,364.85 498.45,368.12 498.70,368.75 498.95,366.63 499.20,362.14 499.45,356.07 499.70,349.47 499.95,343.50 500.20,339.21 500.45,337.34 500.70,338.24 500.95,341.73 501.20,347.20 501.45,353.71 501.70,360.10 501.95,365.27 502.20,368.30 502.45,368.66 502.70,366.29 502.95,361.61 503.20,355.44 503.45,348.85 503.70,343.00 503.95,338.91 504.20,337.31 504.45,338.47 504.70,342.18 504.95,347.80 505.20,354.35 505.45,360.67 505.70,365.66 505.95,368.45 506.20,368.55 506.45,365.93 506.70,361.07 506.95,354.80 507.20,348.24 507.45,342.52 507.70,338.65 507.95,337.30 508.20,338.72 508.45,342.65 508.70,348.41 508.95,354.98 509.20,361.22 509.45,366.04 509.70,368.58 509.95,368.41 510.20,365.55 510.45,360.51 510.70,354.17 510.95,347.63 511.20,342.05 511.45,338.40 511.70,337.32 511.95,338.99 512.20,343.14 512.45,349.02 512.70,355.61 512.95,361.76 513.20,366.39 513.45,368.69 513.70,368.25 513.95,365.15 514.20,359.94 514.45,353.53 514.70,347.04 514.95,341.60 515.20,338.18 515.45,337.36 515.70,339.29 515.95,343.64 516.20,349.64 516.45,356.24 516.70,362.29 516.95,366.72 517.20,368.76 517.45,368.06 517.70,364.73 517.95,359.36 518.20,352.89 518.45,346.46 518.70,341.18 518.95,337.98 519.20,337.43 519.45,339.61 519.70,344.16 519.95,350.26 520.20,356.86 520.45,362.80 520.70,367.03 520.95,368.82 521.20,367.85 521.45,364.29 521.70,358.77 521.95,352.26 522.20,345.88 522.45,340.77 522.70,337.81 522.95,337.52 523.20,339.96 523.45,344.69 523.70,350.89 523.95,357.48 524.20,363.29 524.45,367.32 524.70,368.85 524.95,367.61 525.20,363.84 525.45,358.18 525.70,351.62 525.95,345.32 526.20,340.38 526.45,337.66 526.70,337.64 526.95,340.32 527.20,345.24 527.45,351.53 527.70,358.09 527.95,363.77 528.20,367.58 528.45,368.85 528.70,367.36 528.95,363.36 529.20,357.57 529.45,350.99 529.70,344.77 529.95,340.01 530.20,337.54 530.45,337.78 530.70,340.71 530.95,345.80 531.20,352.16 531.45,358.69 531.70,364.23 531.95,367.82 532.20,368.82 532.45,367.07 532.70,362.87 532.95,356.95 533.20,350.36 533.45,344.24 533.70,339.66 533.95,337.44 534.20,337.95 534.45,341.11 534.70,346.37 534.95,352.80 535.20,359.28 535.45,364.67 535.70,368.03 535.95,368.77 536.20,366.77 536.45,362.36 536.70,356.33 536.95,349.73 537.20,343.72 537.45,339.34 537.70,337.37 537.95,338.15 538.20,341.54 538.45,346.95 538.70,353.44 538.95,359.86 539.20,365.09 539.45,368.22 539.70,368.70 539.95,366.44 540.20,361.84 540.45,355.71 540.70,349.11 540.95,343.21 541.20,339.04 541.45,337.32 541.70,338.37 541.95,341.98 542.20,347.55 542.45,354.08 542.70,360.43 542.95,365.50 543.20,368.39 543.45,368.60 543.70,366.09 543.95,361.30 544.20,355.07 544.45,348.50 544.70,342.72 544.95,338.76 545.20,337.30 545.45,338.61 545.70,342.45 545.95,348.15 546.20,354.71 546.45,360.99 546.70,365.88 546.95,368.53 547.20,368.47 547.45,365.72 547.70,360.75 547.95,354.44 548.20,347.89 548.45,342.25 548.70,338.50 548.95,337.31 549.20,338.87 549.45,342.93 549.70,348.76 549.95,355.34 550.20,361.53 550.45,366.24 550.70,368.64 550.95,368.32 551.20,365.33 551.45,360.19 551.70,353.80 551.95,347.29 552.20,341.79 552.45,338.27 552.70,337.34 552.95,339.16 553.20,343.42 553.45,349.37 553.70,355.97 553.95,362.07 554.20,366.58 554.45,368.73 554.70,368.14 554.95,364.92 555.20,359.61 555.45,353.17 555.70,346.70 555.95,341.36 556.20,338.06 556.45,337.39 556.70,339.47 556.95,343.94 557.20,350.00 557.45,356.60 557.70,362.58 557.95,366.90 558.20,368.80 558.45,367.94 558.70,364.48 558.95,359.03 559.20,352.53 559.45,346.12 559.70,340.94 559.95,337.88 560.20,337.48 560.45,339.81 560.70,344.46 560.95,350.63 561.20,357.22 561.45,363.08 561.70,367.20 561.95,368.84 562.20,367.72 562.45,364.03 562.70,358.43 562.95,351.89 563.20,345.56 563.45,340.54 563.70,337.72 563.95,337.59 564.20,340.16 564.45,345.00 564.70,351.26 564.95,357.83 565.20,363.57 565.45,367.47 565.70,368.85 565.95,367.47 566.20,363.57 566.45,357.83 566.70,351.26 566.95,345.00 567.20,340.16 567.45,337.59 567.70,337.72 567.95,340.54 568.20,345.56 568.45,351.89 568.70,358.43 568.95,364.04 569.20,367.72 569.45,368.84 569.70,367.20 569.95,363.08 570.20,357.22 570.45,350.62 570.70,344.46 570.95,339.81 571.20,337.48 571.45,337.88 571.70,340.94 571.95,346.13 572.20,352.53 572.45,359.03 572.70,364.49 572.95,367.94 573.20,368.80 573.45,366.90 573.70,362.58 573.95,356.60 574.20,350.00 574.45,343.93 574.70,339.47 574.95,337.39 575.20,338.06 575.45,341.36 575.70,346.70 575.95,353.17 576.20,359.61 576.45,364.92 576.70,368.14 576.95,368.73 577.20,366.58 577.45,362.06 577.70,355.97 577.95,349.37 578.20,343.42 578.45,339.16 578.70,337.34 578.95,338.27 579.20,341.79 579.45,347.29 579.70,353.81 579.95,360.19 580.20,365.33 580.45,368.32 580.70,368.64 580.95,366.24 581.20,361.53 581.45,355.34 581.70,348.76 581.95,342.93 582.20,338.87 582.45,337.31 582.70,338.50 582.95,342.25 583.20,347.89 583.45,354.44 583.70,360.75 583.95,365.72 584.20,368.47 584.45,368.53 584.70,365.88 584.95,360.99 585.20,354.71 585.45,348.15 585.70,342.45 585.95,338.61 586.20,337.30 586.45,338.76 586.70,342.72 586.95,348.50 587.20,355.08 587.45,361.30 587.70,366.09 587.95,368.60 588.20,368.39 588.45,365.50 588.70,360.43 588.95,354.07 589.20,347.54 589.45,341.98 589.70,338.36 589.95,337.32 590.20,339.04 590.45,343.21 590.70,349.11 590.95,355.71 591.20,361.84 591.45,366.44 591.70,368.70 591.95,368.22 592.20,365.09 592.45,359.86 592.70,353.44 592.95,346.95 593.20,341.54 593.45,338.15 593.70,337.37 593.95,339.34 594.20,343.72 594.45,349.73 594.70,356.33 594.95,362.36 595.20,366.77 595.45,368.77 595.70,368.03 595.95,364.67 596.20,359.28 596.45,352.80 596.70,346.37 596.95,341.11 597.20,337.95 597.45,337.44 597.70,339.66 597.95,344.24 598.20,350.36 598.45,356.95" fill="none" stroke="#52681a" stroke-width="1.05" stroke-linejoin="round"/>
<g fill="#fff" stroke="#5b722c" stroke-width="0.8"><circle cx="63.00" cy="393.60" r="3.75"/><circle cx="73.90" cy="393.60" r="3.75"/><circle cx="84.80" cy="393.60" r="3.75"/><circle cx="95.70" cy="393.60" r="3.75"/><circle cx="106.60" cy="393.60" r="3.75"/><circle cx="117.50" cy="393.60" r="3.75"/><circle cx="128.40" cy="393.60" r="3.75"/><circle cx="139.30" cy="393.60" r="3.75"/><circle cx="150.20" cy="393.60" r="3.75"/><circle cx="161.00" cy="284.40" r="3.75"/><circle cx="171.80" cy="346.00" r="3.75"/><circle cx="182.90" cy="345.00" r="3.75"/><circle cx="193.70" cy="352.00" r="3.75"/><circle cx="204.70" cy="364.98" r="3.75"/><circle cx="215.60" cy="368.37" r="3.75"/><circle cx="226.50" cy="368.45" r="3.75"/><circle cx="237.40" cy="365.22" r="3.75"/><circle cx="248.30" cy="359.36" r="3.75"/><circle cx="259.20" cy="352.14" r="3.75"/><circle cx="270.10" cy="345.13" r="3.75"/><circle cx="281.00" cy="339.83" r="3.75"/><circle cx="291.90" cy="337.39" r="3.75"/><circle cx="302.80" cy="338.33" r="3.75"/><circle cx="313.70" cy="342.46" r="3.75"/><circle cx="324.60" cy="348.87" r="3.75"/><circle cx="335.50" cy="356.19" r="3.75"/><circle cx="346.40" cy="362.84" r="3.75"/><circle cx="357.30" cy="367.38" r="3.75"/><circle cx="368.20" cy="368.83" r="3.75"/><circle cx="379.10" cy="366.88" r="3.75"/><circle cx="390.00" cy="361.95" r="3.75"/><circle cx="400.90" cy="355.10" r="3.75"/><circle cx="411.80" cy="347.81" r="3.75"/><circle cx="422.70" cy="341.66" r="3.75"/><circle cx="433.60" cy="337.97" r="3.75"/><circle cx="444.50" cy="337.54" r="3.75"/><circle cx="455.40" cy="340.47" r="3.75"/><circle cx="466.30" cy="346.11" r="3.75"/><circle cx="477.20" cy="353.26" r="3.75"/><circle cx="488.10" cy="360.36" r="3.75"/><circle cx="499.00" cy="365.89" r="3.75"/><circle cx="509.90" cy="368.66" r="3.75"/><circle cx="520.80" cy="368.06" r="3.75"/><circle cx="531.70" cy="364.22" r="3.75"/><circle cx="542.60" cy="357.98" r="3.75"/><circle cx="553.50" cy="350.68" r="3.75"/><circle cx="564.40" cy="343.89" r="3.75"/><circle cx="575.30" cy="339.09" r="3.75"/><circle cx="586.20" cy="337.30" r="3.75"/><circle cx="597.10" cy="338.92" r="3.75"/></g>
</g>
<path d="M63.00 8.90V433.10" fill="none" stroke="#222" stroke-width="1.6"/>
<path d="M62.20 432.20H618.05" fill="none" stroke="#111" stroke-width="1.8"/>
<path d="M617.10 8.90V433.10" fill="none" stroke="#111" stroke-width="1.9"/>
<path d="M63.0 421.01h4.2 M63.0 393.60h7.9 M63.0 366.19h4.2 M63.0 338.78h7.9 M63.0 311.37h4.2 M63.0 283.96h7.9 M63.0 256.55h4.2 M63.0 229.14h7.9 M63.0 201.73h4.2 M63.0 174.32h7.9 M63.0 146.91h4.2 M63.0 119.50h7.9 M63.0 92.09h4.2 M63.0 64.68h7.9 M63.0 37.27h4.2 M63.0 9.86h7.9 M617.1 412.79h-4.2 M617.1 393.60h-7.8 M617.1 374.42h-4.2 M617.1 355.23h-7.8 M617.1 336.05h-4.2 M617.1 316.86h-7.8 M617.1 297.68h-4.2 M617.1 278.49h-7.8 M617.1 259.31h-4.2 M617.1 240.12h-7.8 M617.1 220.94h-4.2 M617.1 201.75h-7.8 M617.1 182.57h-4.2 M617.1 163.38h-7.8 M617.1 144.20h-4.2 M617.1 125.01h-7.8 M617.1 105.83h-4.2 M617.1 86.64h-7.8 M617.1 67.45h-4.2 M617.1 48.27h-7.8 M617.1 29.09h-4.2 M617.1 9.90h-7.8 M63.00 432.2v-7.8 M109.17 432.2v-4.0 M155.33 432.2v-7.8 M201.50 432.2v-4.0 M247.67 432.2v-7.8 M293.84 432.2v-4.0 M340.00 432.2v-7.8 M386.17 432.2v-4.0 M432.34 432.2v-7.8 M478.51 432.2v-4.0 M524.67 432.2v-7.8 M570.84 432.2v-4.0 M617.01 432.2v-7.8" stroke="#111" stroke-width="1.6" fill="none"/>
<text x="55.5" y="400.2" text-anchor="end">0</text>
<text x="55.5" y="345.4" text-anchor="end">5</text>
<text x="55.5" y="290.6" text-anchor="end">10</text>
<text x="55.5" y="235.7" text-anchor="end">15</text>
<text x="55.5" y="180.9" text-anchor="end">20</text>
<text x="55.5" y="126.1" text-anchor="end">25</text>
<text x="55.5" y="71.3" text-anchor="end">30</text>
<text x="55.5" y="16.5" text-anchor="end">35</text>
<text x="624.6" y="16.5">1.0</text>
<text x="624.6" y="54.9">0.9</text>
<text x="624.6" y="93.2">0.8</text>
<text x="624.6" y="131.6">0.7</text>
<text x="624.6" y="170.0">0.6</text>
<text x="624.6" y="208.4">0.5</text>
<text x="624.6" y="246.7">0.4</text>
<text x="624.6" y="285.1">0.3</text>
<text x="624.6" y="323.5">0.2</text>
<text x="624.6" y="361.8">0.1</text>
<text x="624.6" y="400.2">0.0</text>
<text x="624.6" y="438.6">-0.1</text>
<text x="63.00" y="455.8" text-anchor="middle">0</text>
<text x="155.33" y="455.8" text-anchor="middle">50</text>
<text x="247.67" y="455.8" text-anchor="middle">100</text>
<text x="340.00" y="455.8" text-anchor="middle">150</text>
<text x="432.34" y="455.8" text-anchor="middle">200</text>
<text x="524.67" y="455.8" text-anchor="middle">250</text>
<text x="617.01" y="455.8" text-anchor="middle">300</text>
<text x="136" y="20.3" textLength="119.8" lengthAdjust="spacing">Original model</text>
<text x="260.6" y="20.3">(</text>
<text x="267.1" y="20.3" font-style="italic">l</text>
<text x="272.4" y="27" font-size="12.3">r2</text>
<text x="282.1" y="20.3" textLength="71.4" lengthAdjust="spacing">=10 mm,</text>
<text x="358" y="20.3" font-style="italic">d</text>
<text x="367.6" y="27" font-size="12.3">r2</text>
<text x="377.5" y="20.3" textLength="78.2" lengthAdjust="spacing">=1.6 mm)</text>
<text x="207.5" y="104" textLength="197.6" lengthAdjust="spacing"><tspan font-style="italic">Response time</tspan> = 12.5 ms</text>
<text x="323" y="483" ><tspan font-style="italic">t</tspan> (ms)</text>
<text transform="translate(16.5,224.9) rotate(-90)" text-anchor="middle"><tspan font-style="italic">Pressure</tspan> (MPa)</text>
<text transform="translate(677.7,223.3) rotate(-90)" text-anchor="middle" textLength="153.4" lengthAdjust="spacing"><tspan font-style="italic">displacement</tspan> (mm)</text>
<!-- legend -->
<path d="M515.4 10H544.4" stroke="#222" stroke-width="1.2"/>
<rect x="526.6" y="6.7" width="6.6" height="6.6" fill="#fff" stroke="#333" stroke-width="1"/>
<text x="548" y="14" font-style="italic">p</text><text x="558.8" y="21.2" font-size="12.5">s</text>
<path d="M515.4 40.2H544.4" stroke="#9a4a24" stroke-width="1.1"/>
<path d="M529.9 35.4L534.2 42.6L525.6 42.6Z" fill="#fff" stroke="#9a4a24" stroke-width="1"/>
<text x="548.3" y="44.7" font-style="italic">y</text>
<path d="M515.4 64.35H544.4" stroke="#52681a" stroke-width="1.2"/>
<circle cx="529.9" cy="64.35" r="3.85" fill="#fff" stroke="#5b722c" stroke-width="0.9"/>
<text x="548.5" y="68.7" font-style="italic">x</text>
</svg>
</body></html>
